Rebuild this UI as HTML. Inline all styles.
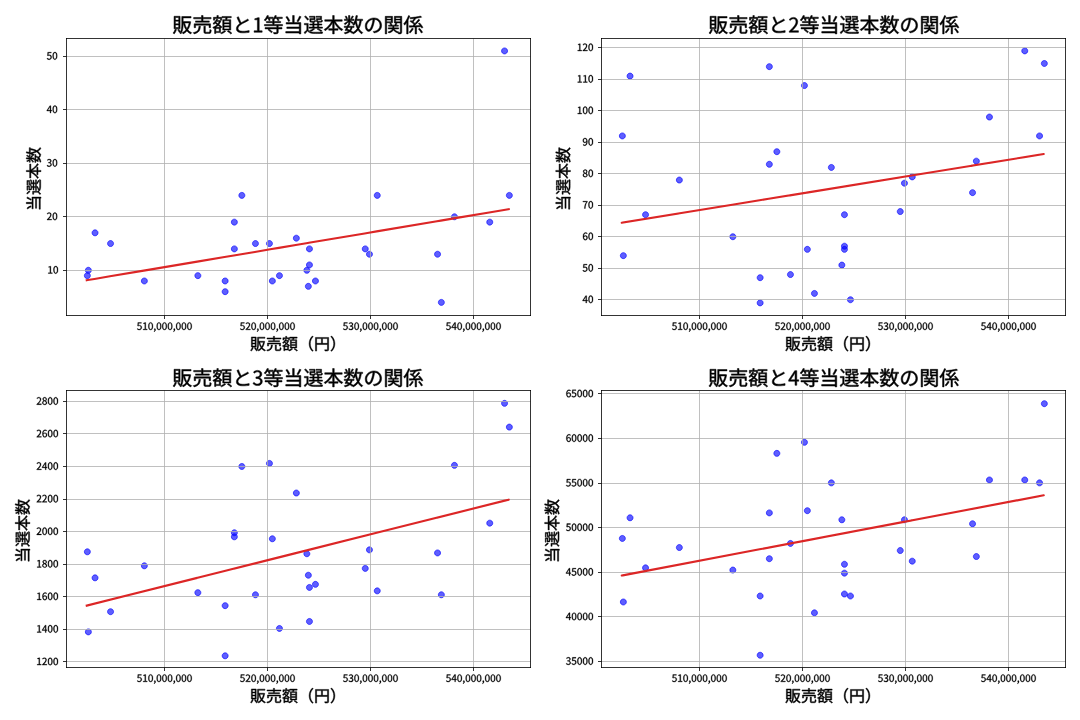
<!DOCTYPE html>
<html><head><meta charset="utf-8"><title>chart</title>
<style>html,body{margin:0;padding:0;background:#fff;width:1080px;height:720px;overflow:hidden;font-family:"Liberation Sans",sans-serif}svg{display:block}</style>
</head><body>
<svg width="1080" height="720" viewBox="0 0 1080 720">
<defs>
<style type="text/css">*{stroke-linejoin: round; stroke-linecap: butt}</style>
</defs>
<g id="figure_1">
<g id="patch_1">
<path d="M 0 720  L 1080 720  L 1080 0  L 0 0  z " style="fill: #ffffff" />
</g>
<g id="axes_1">
<g id="patch_2">
<path d="M 66.5 315.5  L 530.5 315.5  L 530.5 38.5  L 66.5 38.5  z " style="fill: #ffffff" />
</g>
<g id="dots0">
<defs>
<path id="m3312d42796" d="M 0 3  C 0.795609 3 1.55874 2.683901 2.12132 2.12132  C 2.683901 1.55874 3 0.795609 3 0  C 3 -0.795609 2.683901 -1.55874 2.12132 -2.12132  C 1.55874 -2.683901 0.795609 -3 0 -3  C -0.795609 -3 -1.55874 -2.683901 -2.12132 -2.12132  C -2.683901 -1.55874 -3 -0.795609 -3 0  C -3 0.795609 -2.683901 1.55874 -2.12132 2.12132  C -1.55874 2.683901 -0.795609 3 0 3  z " style="stroke: #0000ff; stroke-opacity: 0.63" />
</defs>
<g clip-path="url(#p40eb9d77cc)">
<use href="#m3312d42796" x="87.35" y="275.63" style="fill: #0000ff; fill-opacity: 0.63; stroke: #0000ff; stroke-opacity: 0.63" />
<use href="#m3312d42796" x="88.35" y="270.28" style="fill: #0000ff; fill-opacity: 0.63; stroke: #0000ff; stroke-opacity: 0.63" />
<use href="#m3312d42796" x="95.05" y="232.83" style="fill: #0000ff; fill-opacity: 0.63; stroke: #0000ff; stroke-opacity: 0.63" />
<use href="#m3312d42796" x="110.55" y="243.53" style="fill: #0000ff; fill-opacity: 0.63; stroke: #0000ff; stroke-opacity: 0.63" />
<use href="#m3312d42796" x="144.35" y="280.98" style="fill: #0000ff; fill-opacity: 0.63; stroke: #0000ff; stroke-opacity: 0.63" />
<use href="#m3312d42796" x="197.85" y="275.63" style="fill: #0000ff; fill-opacity: 0.63; stroke: #0000ff; stroke-opacity: 0.63" />
<use href="#m3312d42796" x="225.15" y="280.98" style="fill: #0000ff; fill-opacity: 0.63; stroke: #0000ff; stroke-opacity: 0.63" />
<use href="#m3312d42796" x="225.15" y="291.68" style="fill: #0000ff; fill-opacity: 0.63; stroke: #0000ff; stroke-opacity: 0.63" />
<use href="#m3312d42796" x="234.35" y="222.13" style="fill: #0000ff; fill-opacity: 0.63; stroke: #0000ff; stroke-opacity: 0.63" />
<use href="#m3312d42796" x="234.35" y="248.88" style="fill: #0000ff; fill-opacity: 0.63; stroke: #0000ff; stroke-opacity: 0.63" />
<use href="#m3312d42796" x="241.85" y="195.38" style="fill: #0000ff; fill-opacity: 0.63; stroke: #0000ff; stroke-opacity: 0.63" />
<use href="#m3312d42796" x="255.45" y="243.53" style="fill: #0000ff; fill-opacity: 0.63; stroke: #0000ff; stroke-opacity: 0.63" />
<use href="#m3312d42796" x="269.45" y="243.53" style="fill: #0000ff; fill-opacity: 0.63; stroke: #0000ff; stroke-opacity: 0.63" />
<use href="#m3312d42796" x="272.35" y="280.98" style="fill: #0000ff; fill-opacity: 0.63; stroke: #0000ff; stroke-opacity: 0.63" />
<use href="#m3312d42796" x="279.45" y="275.63" style="fill: #0000ff; fill-opacity: 0.63; stroke: #0000ff; stroke-opacity: 0.63" />
<use href="#m3312d42796" x="296.35" y="238.18" style="fill: #0000ff; fill-opacity: 0.63; stroke: #0000ff; stroke-opacity: 0.63" />
<use href="#m3312d42796" x="306.85" y="270.28" style="fill: #0000ff; fill-opacity: 0.63; stroke: #0000ff; stroke-opacity: 0.63" />
<use href="#m3312d42796" x="308.35" y="286.33" style="fill: #0000ff; fill-opacity: 0.63; stroke: #0000ff; stroke-opacity: 0.63" />
<use href="#m3312d42796" x="309.45" y="248.88" style="fill: #0000ff; fill-opacity: 0.63; stroke: #0000ff; stroke-opacity: 0.63" />
<use href="#m3312d42796" x="309.45" y="264.93" style="fill: #0000ff; fill-opacity: 0.63; stroke: #0000ff; stroke-opacity: 0.63" />
<use href="#m3312d42796" x="315.45" y="280.98" style="fill: #0000ff; fill-opacity: 0.63; stroke: #0000ff; stroke-opacity: 0.63" />
<use href="#m3312d42796" x="365.25" y="248.88" style="fill: #0000ff; fill-opacity: 0.63; stroke: #0000ff; stroke-opacity: 0.63" />
<use href="#m3312d42796" x="369.45" y="254.23" style="fill: #0000ff; fill-opacity: 0.63; stroke: #0000ff; stroke-opacity: 0.63" />
<use href="#m3312d42796" x="377.25" y="195.38" style="fill: #0000ff; fill-opacity: 0.63; stroke: #0000ff; stroke-opacity: 0.63" />
<use href="#m3312d42796" x="437.55" y="254.23" style="fill: #0000ff; fill-opacity: 0.63; stroke: #0000ff; stroke-opacity: 0.63" />
<use href="#m3312d42796" x="441.35" y="302.38" style="fill: #0000ff; fill-opacity: 0.63; stroke: #0000ff; stroke-opacity: 0.63" />
<use href="#m3312d42796" x="454.45" y="216.78" style="fill: #0000ff; fill-opacity: 0.63; stroke: #0000ff; stroke-opacity: 0.63" />
<use href="#m3312d42796" x="489.75" y="222.13" style="fill: #0000ff; fill-opacity: 0.63; stroke: #0000ff; stroke-opacity: 0.63" />
<use href="#m3312d42796" x="504.55" y="50.93" style="fill: #0000ff; fill-opacity: 0.63; stroke: #0000ff; stroke-opacity: 0.63" />
<use href="#m3312d42796" x="509.35" y="195.38" style="fill: #0000ff; fill-opacity: 0.63; stroke: #0000ff; stroke-opacity: 0.63" />
</g>
</g>
<g id="matplotlib.axis_1">
<g id="xtick_1">
<g id="line2d_1">
<path d="M 164.5 315.5 L 164.5 38.5" clip-path="url(#p40eb9d77cc)" style="fill: none; stroke: #b0b0b0; stroke-width: 0.8; stroke-linecap: square" />
</g>
<g id="line2d_2">
<defs>
<path id="m7c25c535dc" d="M 0 0  L 0 3.5  " style="stroke: #000000; stroke-width: 0.8" />
</defs>
<g>
<use href="#m7c25c535dc" x="164.5" y="315.5" style="stroke: #000000; stroke-width: 0.8" />
</g>
</g>
<g id="xtl0_0" transform="translate(0 -0.6)">
<g transform="translate(136.745313 330.459375) scale(0.1 -0.1)" style="stroke:#000;stroke-width:192.00;stroke-linejoin:round">
<defs>
<path id="NotoSansCJKjp-Regular-35" d="M 1677 -83  C 2464 -83 3213 499 3213 1523  C 3213 2560 2573 3021 1798 3021  C 1517 3021 1306 2950 1094 2835  L 1216 4192  L 2982 4192  L 2982 4691  L 704 4691  L 550 2502  L 864 2304  C 1133 2483 1331 2579 1645 2579  C 2234 2579 2618 2182 2618 1510  C 2618 826 2176 403 1619 403  C 1075 403 730 653 467 922  L 173 538  C 493 224 941 -83 1677 -83  z " transform="scale(0.015625)" />
<path id="NotoSansCJKjp-Regular-31" d="M 563 0  L 3136 0  L 3136 486  L 2195 486  L 2195 4691  L 1747 4691  C 1491 4544 1190 4435 774 4358  L 774 3987  L 1613 3987  L 1613 486  L 563 486  L 563 0  z " transform="scale(0.015625)" />
<path id="NotoSansCJKjp-Regular-30" d="M 1779 -83  C 2669 -83 3238 723 3238 2362  C 3238 3987 2669 4774 1779 4774  C 883 4774 320 3987 320 2362  C 320 723 883 -83 1779 -83  z M 1779 390  C 1248 390 883 986 883 2362  C 883 3731 1248 4314 1779 4314  C 2310 4314 2675 3731 2675 2362  C 2675 986 2310 390 1779 390  z " transform="scale(0.015625)" />
<path id="NotoSansCJKjp-Regular-2c" d="M 480 -1216  C 1056 -973 1414 -493 1414 122  C 1414 550 1229 806 922 806  C 685 806 480 653 480 397  C 480 141 678 -13 909 -13  L 979 -6  C 973 -390 736 -698 339 -870  L 480 -1216  z " transform="scale(0.015625)" />
</defs>
<use href="#NotoSansCJKjp-Regular-35" />
<use href="#NotoSansCJKjp-Regular-31" transform="translate(55.499985 0)" />
<use href="#NotoSansCJKjp-Regular-30" transform="translate(110.999969 0)" />
<use href="#NotoSansCJKjp-Regular-2c" transform="translate(166.499954 0)" />
<use href="#NotoSansCJKjp-Regular-30" transform="translate(194.299942 0)" />
<use href="#NotoSansCJKjp-Regular-30" transform="translate(249.799927 0)" />
<use href="#NotoSansCJKjp-Regular-30" transform="translate(305.299911 0)" />
<use href="#NotoSansCJKjp-Regular-2c" transform="translate(360.799896 0)" />
<use href="#NotoSansCJKjp-Regular-30" transform="translate(388.599884 0)" />
<use href="#NotoSansCJKjp-Regular-30" transform="translate(444.099869 0)" />
<use href="#NotoSansCJKjp-Regular-30" transform="translate(499.599854 0)" />
</g>
</g>
</g>
<g id="xtick_2">
<g id="line2d_3">
<path d="M 267.5 315.5 L 267.5 38.5" clip-path="url(#p40eb9d77cc)" style="fill: none; stroke: #b0b0b0; stroke-width: 0.8; stroke-linecap: square" />
</g>
<g id="line2d_4">
<g>
<use href="#m7c25c535dc" x="267.5" y="315.5" style="stroke: #000000; stroke-width: 0.8" />
</g>
</g>
<g id="xtl0_1" transform="translate(0 -0.6)">
<g transform="translate(239.745313 330.459375) scale(0.1 -0.1)" style="stroke:#000;stroke-width:192.00;stroke-linejoin:round">
<defs>
<path id="NotoSansCJKjp-Regular-32" d="M 282 0  L 3232 0  L 3232 506  L 1933 506  C 1696 506 1408 480 1165 461  C 2266 1504 3008 2458 3008 3398  C 3008 4230 2477 4774 1638 4774  C 1043 4774 634 4506 256 4090  L 595 3757  C 858 4070 1184 4301 1568 4301  C 2150 4301 2432 3910 2432 3373  C 2432 2566 1754 1632 282 346  L 282 0  z " transform="scale(0.015625)" />
</defs>
<use href="#NotoSansCJKjp-Regular-35" />
<use href="#NotoSansCJKjp-Regular-32" transform="translate(55.499985 0)" />
<use href="#NotoSansCJKjp-Regular-30" transform="translate(110.999969 0)" />
<use href="#NotoSansCJKjp-Regular-2c" transform="translate(166.499954 0)" />
<use href="#NotoSansCJKjp-Regular-30" transform="translate(194.299942 0)" />
<use href="#NotoSansCJKjp-Regular-30" transform="translate(249.799927 0)" />
<use href="#NotoSansCJKjp-Regular-30" transform="translate(305.299911 0)" />
<use href="#NotoSansCJKjp-Regular-2c" transform="translate(360.799896 0)" />
<use href="#NotoSansCJKjp-Regular-30" transform="translate(388.599884 0)" />
<use href="#NotoSansCJKjp-Regular-30" transform="translate(444.099869 0)" />
<use href="#NotoSansCJKjp-Regular-30" transform="translate(499.599854 0)" />
</g>
</g>
</g>
<g id="xtick_3">
<g id="line2d_5">
<path d="M 370.5 315.5 L 370.5 38.5" clip-path="url(#p40eb9d77cc)" style="fill: none; stroke: #b0b0b0; stroke-width: 0.8; stroke-linecap: square" />
</g>
<g id="line2d_6">
<g>
<use href="#m7c25c535dc" x="370.5" y="315.5" style="stroke: #000000; stroke-width: 0.8" />
</g>
</g>
<g id="xtl0_2" transform="translate(0 -0.6)">
<g transform="translate(342.745313 330.459375) scale(0.1 -0.1)" style="stroke:#000;stroke-width:192.00;stroke-linejoin:round">
<defs>
<path id="NotoSansCJKjp-Regular-33" d="M 1683 -83  C 2522 -83 3194 416 3194 1254  C 3194 1901 2752 2310 2202 2445  L 2202 2477  C 2701 2650 3034 3034 3034 3603  C 3034 4346 2458 4774 1664 4774  C 1126 4774 710 4538 358 4218  L 672 3846  C 941 4115 1267 4301 1645 4301  C 2138 4301 2438 4006 2438 3558  C 2438 3053 2112 2662 1139 2662  L 1139 2214  C 2227 2214 2598 1843 2598 1274  C 2598 736 2208 403 1645 403  C 1114 403 762 659 486 941  L 186 563  C 493 224 954 -83 1683 -83  z " transform="scale(0.015625)" />
</defs>
<use href="#NotoSansCJKjp-Regular-35" />
<use href="#NotoSansCJKjp-Regular-33" transform="translate(55.499985 0)" />
<use href="#NotoSansCJKjp-Regular-30" transform="translate(110.999969 0)" />
<use href="#NotoSansCJKjp-Regular-2c" transform="translate(166.499954 0)" />
<use href="#NotoSansCJKjp-Regular-30" transform="translate(194.299942 0)" />
<use href="#NotoSansCJKjp-Regular-30" transform="translate(249.799927 0)" />
<use href="#NotoSansCJKjp-Regular-30" transform="translate(305.299911 0)" />
<use href="#NotoSansCJKjp-Regular-2c" transform="translate(360.799896 0)" />
<use href="#NotoSansCJKjp-Regular-30" transform="translate(388.599884 0)" />
<use href="#NotoSansCJKjp-Regular-30" transform="translate(444.099869 0)" />
<use href="#NotoSansCJKjp-Regular-30" transform="translate(499.599854 0)" />
</g>
</g>
</g>
<g id="xtick_4">
<g id="line2d_7">
<path d="M 473.5 315.5 L 473.5 38.5" clip-path="url(#p40eb9d77cc)" style="fill: none; stroke: #b0b0b0; stroke-width: 0.8; stroke-linecap: square" />
</g>
<g id="line2d_8">
<g>
<use href="#m7c25c535dc" x="473.5" y="315.5" style="stroke: #000000; stroke-width: 0.8" />
</g>
</g>
<g id="xtl0_3" transform="translate(0 -0.6)">
<g transform="translate(445.745313 330.459375) scale(0.1 -0.1)" style="stroke:#000;stroke-width:192.00;stroke-linejoin:round">
<defs>
<path id="NotoSansCJKjp-Regular-34" d="M 2176 0  L 2726 0  L 2726 1293  L 3354 1293  L 3354 1760  L 2726 1760  L 2726 4691  L 2080 4691  L 128 1677  L 128 1293  L 2176 1293  L 2176 0  z M 2176 1760  L 736 1760  L 1805 3360  C 1939 3590 2067 3827 2182 4051  L 2208 4051  C 2195 3814 2176 3430 2176 3200  L 2176 1760  z " transform="scale(0.015625)" />
</defs>
<use href="#NotoSansCJKjp-Regular-35" />
<use href="#NotoSansCJKjp-Regular-34" transform="translate(55.499985 0)" />
<use href="#NotoSansCJKjp-Regular-30" transform="translate(110.999969 0)" />
<use href="#NotoSansCJKjp-Regular-2c" transform="translate(166.499954 0)" />
<use href="#NotoSansCJKjp-Regular-30" transform="translate(194.299942 0)" />
<use href="#NotoSansCJKjp-Regular-30" transform="translate(249.799927 0)" />
<use href="#NotoSansCJKjp-Regular-30" transform="translate(305.299911 0)" />
<use href="#NotoSansCJKjp-Regular-2c" transform="translate(360.799896 0)" />
<use href="#NotoSansCJKjp-Regular-30" transform="translate(388.599884 0)" />
<use href="#NotoSansCJKjp-Regular-30" transform="translate(444.099869 0)" />
<use href="#NotoSansCJKjp-Regular-30" transform="translate(499.599854 0)" />
</g>
</g>
</g>
<g id="xlabel0" transform="translate(-0.5 0.3)">
<g transform="translate(250.5 349.485) scale(0.16 -0.16)" style="stroke:#000;stroke-width:180.00;stroke-linejoin:round">
<defs>
<path id="NotoSansCJKjp-Regular-8ca9" d="M 883 966  C 755 506 512 51 205 -250  C 320 -314 506 -448 589 -525  C 896 -186 1178 339 1338 864  L 883 966  z M 1709 806  C 1888 544 2086 186 2176 -38  L 2573 166  C 2483 384 2278 717 2093 973  L 1709 806  z M 979 3533  L 2029 3533  L 2029 2714  L 979 2714  L 979 3533  z M 979 2336  L 2029 2336  L 2029 1504  L 979 1504  L 979 2336  z M 979 4730  L 2029 4730  L 2029 3910  L 979 3910  L 979 4730  z M 544 5126  L 544 1107  L 2483 1107  L 2483 5126  L 544 5126  z M 3014 5056  L 3014 2726  C 3014 1792 2970 582 2387 -269  C 2496 -320 2688 -448 2765 -531  C 3379 378 3462 1734 3462 2726  L 3462 2995  L 3507 2995  C 3693 2138 3974 1395 4378 794  C 4026 384 3610 77 3155 -115  C 3258 -205 3379 -390 3437 -506  C 3898 -288 4307 19 4666 416  C 4998 19 5402 -294 5882 -525  C 5952 -403 6093 -224 6195 -141  C 5696 64 5286 378 4947 781  C 5402 1427 5728 2272 5888 3366  L 5600 3437  L 5517 3424  L 3462 3424  L 3462 4614  L 5990 4614  L 5990 5056  L 3014 5056  z M 4659 1171  C 4326 1683 4090 2304 3930 2995  L 5376 2995  C 5229 2272 4986 1664 4659 1171  z " transform="scale(0.015625)" />
<path id="NotoSansCJKjp-Regular-58f2" d="M 582 2714  L 582 1485  L 1043 1485  L 1043 2272  L 5344 2272  L 5344 1485  L 5824 1485  L 5824 2714  L 582 2714  z M 3680 1952  L 3680 250  C 3680 -256 3834 -390 4416 -390  C 4531 -390 5222 -390 5357 -390  C 5856 -390 5990 -179 6048 691  C 5914 723 5715 800 5606 883  C 5587 154 5542 45 5312 45  C 5158 45 4582 45 4461 45  C 4205 45 4160 77 4160 256  L 4160 1952  L 3680 1952  z M 2099 1952  C 2010 838 1754 211 282 -109  C 378 -205 506 -397 550 -518  C 2150 -128 2490 640 2598 1952  L 2099 1952  z M 2931 5376  L 2931 4742  L 416 4742  L 416 4301  L 2931 4301  L 2931 3654  L 1011 3654  L 1011 3226  L 5421 3226  L 5421 3654  L 3430 3654  L 3430 4301  L 5997 4301  L 5997 4742  L 3430 4742  L 3430 5376  L 2931 5376  z " transform="scale(0.015625)" />
<path id="NotoSansCJKjp-Regular-984d" d="M 3757 2688  L 5434 2688  L 5434 2074  L 3757 2074  L 3757 2688  z M 3757 1715  L 5434 1715  L 5434 1088  L 3757 1088  L 3757 1715  z M 3757 3667  L 5434 3667  L 5434 3053  L 3757 3053  L 3757 3667  z M 3859 582  C 3610 307 3085 -6 2618 -186  C 2720 -269 2861 -410 2931 -499  C 3405 -320 3942 13 4275 339  L 3859 582  z M 4794 326  C 5171 77 5645 -288 5869 -525  L 6246 -269  C 6003 -26 5523 320 5152 557  L 4794 326  z M 2208 3418  C 2099 3181 1952 2957 1786 2752  L 1171 3181  L 1350 3418  L 2208 3418  z M 1357 4243  C 1114 3680 672 3149 179 2810  C 275 2746 442 2598 506 2522  C 646 2630 781 2752 909 2886  L 1510 2458  C 1114 2061 634 1760 154 1581  C 237 1491 352 1331 410 1229  L 717 1376  L 717 -403  L 1126 -403  L 1126 -96  L 2624 -96  L 2624 1555  L 2790 1395  L 3078 1734  C 2848 1952 2496 2234 2112 2515  C 2381 2842 2598 3226 2752 3654  L 2470 3789  L 2394 3770  L 1574 3770  C 1645 3891 1702 4013 1760 4141  L 1357 4243  z M 358 4794  L 358 3872  L 762 3872  L 762 4403  L 2586 4403  L 2586 3872  L 3002 3872  L 3002 4794  L 1907 4794  L 1907 5370  L 1453 5370  L 1453 4794  L 358 4794  z M 1126 1203  L 2202 1203  L 2202 288  L 1126 288  L 1126 1203  z M 1126 1587  L 1082 1587  C 1350 1760 1606 1965 1843 2208  C 2118 1990 2381 1773 2586 1587  L 1126 1587  z M 3322 4045  L 3322 710  L 5894 710  L 5894 4045  L 4621 4045  L 4813 4659  L 6054 4659  L 6054 5075  L 3078 5075  L 3078 4659  L 4294 4659  C 4262 4461 4211 4237 4160 4045  L 3322 4045  z " transform="scale(0.015625)" />
<path id="NotoSansCJKjp-Regular-ff08" d="M 4448 2432  C 4448 1184 4954 166 5722 -614  L 6106 -416  C 5370 346 4915 1293 4915 2432  C 4915 3571 5370 4518 6106 5280  L 5722 5478  C 4954 4698 4448 3680 4448 2432  z " transform="scale(0.015625)" />
<path id="NotoSansCJKjp-Regular-5186" d="M 5376 4467  L 5376 2579  L 3424 2579  L 3424 4467  L 5376 4467  z M 576 4941  L 576 -518  L 1062 -518  L 1062 2106  L 5376 2106  L 5376 128  C 5376 13 5338 -26 5216 -32  C 5088 -32 4678 -38 4237 -26  C 4307 -154 4390 -371 4416 -506  C 4998 -506 5357 -499 5568 -422  C 5786 -339 5862 -186 5862 128  L 5862 4941  L 576 4941  z M 1062 2579  L 1062 4467  L 2944 4467  L 2944 2579  L 1062 2579  z " transform="scale(0.015625)" />
<path id="NotoSansCJKjp-Regular-ff09" d="M 1952 2432  C 1952 3680 1446 4698 678 5478  L 294 5280  C 1030 4518 1485 3571 1485 2432  C 1485 1293 1030 346 294 -416  L 678 -614  C 1446 166 1952 1184 1952 2432  z " transform="scale(0.015625)" />
</defs>
<use href="#NotoSansCJKjp-Regular-8ca9" />
<use href="#NotoSansCJKjp-Regular-58f2" transform="translate(99.999985 0)" />
<use href="#NotoSansCJKjp-Regular-984d" transform="translate(199.999969 0)" />
<use href="#NotoSansCJKjp-Regular-ff08" transform="translate(299.999954 0)" />
<use href="#NotoSansCJKjp-Regular-5186" transform="translate(399.999939 0)" />
<use href="#NotoSansCJKjp-Regular-ff09" transform="translate(499.999924 0)" />
</g>
</g>
</g>
<g id="matplotlib.axis_2">
<g id="ytick_1">
<g id="line2d_9">
<path d="M 66.5 270.5 L 530.5 270.5" clip-path="url(#p40eb9d77cc)" style="fill: none; stroke: #b0b0b0; stroke-width: 0.8; stroke-linecap: square" />
</g>
<g id="line2d_10">
<defs>
<path id="mb258c49b38" d="M 0 0  L -3.5 0  " style="stroke: #000000; stroke-width: 0.8" />
</defs>
<g>
<use href="#mb258c49b38" x="66.5" y="270.5" style="stroke: #000000; stroke-width: 0.8" />
</g>
</g>
<g id="ytl0_1" transform="translate(-1 -0.7)">
<g transform="translate(48.4 274.259687) scale(0.1 -0.1)" style="stroke:#000;stroke-width:192.00;stroke-linejoin:round">
<use href="#NotoSansCJKjp-Regular-31" />
<use href="#NotoSansCJKjp-Regular-30" transform="translate(55.499985 0)" />
</g>
</g>
</g>
<g id="ytick_2">
<g id="line2d_11">
<path d="M 66.5 216.5 L 530.5 216.5" clip-path="url(#p40eb9d77cc)" style="fill: none; stroke: #b0b0b0; stroke-width: 0.8; stroke-linecap: square" />
</g>
<g id="line2d_12">
<g>
<use href="#mb258c49b38" x="66.5" y="216.5" style="stroke: #000000; stroke-width: 0.8" />
</g>
</g>
<g id="ytl0_2" transform="translate(-1.8 -0.7)">
<g transform="translate(48.4 220.759687) scale(0.1 -0.1)" style="stroke:#000;stroke-width:192.00;stroke-linejoin:round">
<use href="#NotoSansCJKjp-Regular-32" />
<use href="#NotoSansCJKjp-Regular-30" transform="translate(55.499985 0)" />
</g>
</g>
</g>
<g id="ytick_3">
<g id="line2d_13">
<path d="M 66.5 163.5 L 530.5 163.5" clip-path="url(#p40eb9d77cc)" style="fill: none; stroke: #b0b0b0; stroke-width: 0.8; stroke-linecap: square" />
</g>
<g id="line2d_14">
<g>
<use href="#mb258c49b38" x="66.5" y="163.5" style="stroke: #000000; stroke-width: 0.8" />
</g>
</g>
<g id="ytl0_3" transform="translate(-1.8 -0.7)">
<g transform="translate(48.4 167.259687) scale(0.1 -0.1)" style="stroke:#000;stroke-width:192.00;stroke-linejoin:round">
<use href="#NotoSansCJKjp-Regular-33" />
<use href="#NotoSansCJKjp-Regular-30" transform="translate(55.499985 0)" />
</g>
</g>
</g>
<g id="ytick_4">
<g id="line2d_15">
<path d="M 66.5 109.5 L 530.5 109.5" clip-path="url(#p40eb9d77cc)" style="fill: none; stroke: #b0b0b0; stroke-width: 0.8; stroke-linecap: square" />
</g>
<g id="line2d_16">
<g>
<use href="#mb258c49b38" x="66.5" y="109.5" style="stroke: #000000; stroke-width: 0.8" />
</g>
</g>
<g id="ytl0_4" transform="translate(-1.8 -0.7)">
<g transform="translate(48.4 113.759687) scale(0.1 -0.1)" style="stroke:#000;stroke-width:192.00;stroke-linejoin:round">
<use href="#NotoSansCJKjp-Regular-34" />
<use href="#NotoSansCJKjp-Regular-30" transform="translate(55.499985 0)" />
</g>
</g>
</g>
<g id="ytick_5">
<g id="line2d_17">
<path d="M 66.5 56.5 L 530.5 56.5" clip-path="url(#p40eb9d77cc)" style="fill: none; stroke: #b0b0b0; stroke-width: 0.8; stroke-linecap: square" />
</g>
<g id="line2d_18">
<g>
<use href="#mb258c49b38" x="66.5" y="56.5" style="stroke: #000000; stroke-width: 0.8" />
</g>
</g>
<g id="ytl0_5" transform="translate(-1.8 -0.7)">
<g transform="translate(48.4 60.259687) scale(0.1 -0.1)" style="stroke:#000;stroke-width:192.00;stroke-linejoin:round">
<use href="#NotoSansCJKjp-Regular-35" />
<use href="#NotoSansCJKjp-Regular-30" transform="translate(55.499985 0)" />
</g>
</g>
</g>
<g id="ylabel0" transform="translate(-1 2)">
<g transform="translate(40.735 209) rotate(-90) scale(0.16 -0.16)" style="stroke:#000;stroke-width:180.00;stroke-linejoin:round">
<defs>
<path id="NotoSansCJKjp-Regular-5f53" d="M 774 4922  C 1114 4467 1459 3846 1600 3430  L 2061 3642  C 1914 4045 1562 4646 1210 5094  L 774 4922  z M 5126 5152  C 4941 4659 4582 3981 4307 3552  L 4723 3392  C 5011 3802 5370 4435 5645 4979  L 5126 5152  z M 736 243  L 736 -237  L 5056 -237  L 5056 -518  L 5562 -518  L 5562 3110  L 3456 3110  L 3456 5376  L 2931 5376  L 2931 3110  L 864 3110  L 864 2630  L 5056 2630  L 5056 1702  L 1075 1702  L 1075 1242  L 5056 1242  L 5056 243  L 736 243  z " transform="scale(0.015625)" />
<path id="NotoSansCJKjp-Regular-9078" d="M 320 4979  C 691 4666 1107 4198 1280 3885  L 1683 4154  C 1498 4474 1075 4922 691 5222  L 320 4979  z M 4352 1018  C 4794 787 5261 486 5523 250  L 5990 454  C 5690 698 5158 1005 4698 1229  L 4352 1018  z M 3174 1242  C 2886 986 2413 736 1978 570  C 2080 499 2253 346 2330 269  C 2758 467 3270 781 3603 1094  L 3174 1242  z M 1530 2848  L 288 2848  L 288 2400  L 1075 2400  L 1075 730  C 794 467 480 192 218 0  L 467 -461  C 774 -173 1062 102 1338 384  C 1734 -128 2323 -352 3174 -384  C 3898 -410 5299 -397 6029 -371  C 6048 -230 6118 -19 6176 90  C 5395 38 3885 19 3162 45  C 2406 77 1837 294 1530 774  L 1530 2848  z M 4461 3136  L 4461 2669  L 3411 2669  L 3411 3136  L 2957 3136  L 2957 2669  L 2010 2669  L 2010 2298  L 2957 2298  L 2957 1690  L 1805 1690  L 1805 1312  L 6093 1312  L 6093 1690  L 4922 1690  L 4922 2298  L 5894 2298  L 5894 2669  L 4922 2669  L 4922 3136  L 4461 3136  z M 3411 2298  L 4461 2298  L 4461 1690  L 3411 1690  L 3411 2298  z M 2035 4378  L 2035 3706  C 2035 3315 2163 3219 2637 3219  C 2733 3219 3334 3219 3437 3219  C 3770 3219 3891 3328 3936 3744  C 3814 3770 3661 3821 3578 3878  C 3558 3597 3533 3558 3379 3558  C 3258 3558 2771 3558 2682 3558  C 2477 3558 2445 3584 2445 3706  L 2445 4038  L 3712 4038  L 3712 5126  L 1926 5126  L 1926 4794  L 3296 4794  L 3296 4378  L 2035 4378  z M 4141 4378  L 4141 3712  C 4141 3315 4275 3219 4755 3219  C 4858 3219 5510 3219 5619 3219  C 5958 3219 6086 3334 6125 3763  C 6010 3795 5856 3840 5773 3904  C 5747 3603 5722 3558 5562 3558  C 5427 3558 4902 3558 4800 3558  C 4589 3558 4550 3584 4550 3712  L 4550 4038  L 5805 4038  L 5805 5126  L 4019 5126  L 4019 4794  L 5382 4794  L 5382 4378  L 4141 4378  z " transform="scale(0.015625)" />
<path id="NotoSansCJKjp-Regular-672c" d="M 2944 5370  L 2944 4026  L 416 4026  L 416 3539  L 2643 3539  C 2099 2438 1171 1402 198 896  C 307 800 461 621 544 499  C 1478 1050 2355 2016 2944 3130  L 2944 1171  L 1690 1171  L 1690 685  L 2944 685  L 2944 -512  L 3450 -512  L 3450 685  L 4672 685  L 4672 1171  L 3450 1171  L 3450 3123  C 4026 2016 4896 1043 5856 512  C 5939 646 6106 838 6221 934  C 5210 1427 4288 2438 3744 3539  L 5997 3539  L 5997 4026  L 3450 4026  L 3450 5370  L 2944 5370  z " transform="scale(0.015625)" />
<path id="NotoSansCJKjp-Regular-6570" d="M 2803 5254  C 2688 4998 2483 4627 2317 4403  L 2643 4243  C 2816 4454 3027 4781 3219 5075  L 2803 5254  z M 531 5075  C 704 4806 870 4454 928 4230  L 1312 4397  C 1248 4627 1075 4973 890 5222  L 531 5075  z M 4026 5382  C 3846 4243 3507 3162 2970 2490  C 3078 2413 3283 2246 3360 2163  C 3533 2394 3693 2669 3827 2970  C 3974 2310 4160 1709 4410 1184  C 4090 698 3667 314 3110 19  C 2912 166 2656 326 2374 480  C 2598 774 2746 1126 2829 1562  L 3398 1562  L 3398 1958  L 1677 1958  L 1894 2413  L 1779 2438  L 2061 2438  L 2061 3398  C 2374 3168 2771 2854 2938 2701  L 3206 3046  C 3034 3174 2336 3616 2061 3776  L 2061 3802  L 3373 3802  L 3373 4198  L 2061 4198  L 2061 5382  L 1613 5382  L 1613 4198  L 288 4198  L 288 3802  L 1485 3802  C 1171 3379 678 2982 218 2784  C 314 2694 422 2528 480 2419  C 870 2637 1293 2989 1613 3373  L 1613 2477  L 1440 2515  L 1178 1958  L 250 1958  L 250 1562  L 979 1562  C 806 1222 627 896 486 653  L 909 506  L 1005 678  C 1222 589 1434 493 1638 384  C 1306 147 858 -13 269 -109  C 352 -211 448 -384 480 -512  C 1171 -365 1683 -154 2061 160  C 2355 -13 2611 -186 2810 -352  L 2963 -192  C 3046 -301 3136 -448 3174 -531  C 3802 -205 4288 205 4666 710  C 4979 192 5370 -224 5862 -512  C 5939 -378 6093 -192 6208 -96  C 5690 173 5280 614 4960 1165  C 5350 1856 5594 2707 5754 3750  L 6144 3750  L 6144 4198  L 4262 4198  C 4358 4557 4442 4928 4506 5312  L 4026 5382  z M 1478 1562  L 2368 1562  C 2285 1216 2157 928 1965 698  C 1715 819 1459 934 1197 1030  L 1478 1562  z M 4134 3750  L 5254 3750  C 5139 2950 4966 2266 4698 1696  C 4435 2298 4250 3002 4134 3750  z " transform="scale(0.015625)" />
</defs>
<use href="#NotoSansCJKjp-Regular-5f53" />
<use href="#NotoSansCJKjp-Regular-9078" transform="translate(99.999985 0)" />
<use href="#NotoSansCJKjp-Regular-672c" transform="translate(199.999969 0)" />
<use href="#NotoSansCJKjp-Regular-6570" transform="translate(299.999954 0)" />
</g>
</g>
</g>
<g id="reg0" transform="translate(-0.6 -0.6)">
<path d="M 87.35 280.82691  L 88.35 280.658493  L 95.05 279.530097  L 110.55 276.91963  L 144.35 271.227126  L 197.85 262.216802  L 225.15 257.619011  L 225.15 257.619011  L 234.35 256.069572  L 234.35 256.069572  L 241.85 254.806442  L 255.45 252.515967  L 269.45 250.158126  L 272.35 249.669716  L 279.45 248.473953  L 296.35 245.627701  L 306.85 243.85932  L 308.35 243.606694  L 309.45 243.421435  L 309.45 243.421435  L 315.45 242.410931  L 365.25 234.023751  L 369.45 233.316399  L 377.25 232.002744  L 437.55 221.847183  L 441.35 221.207197  L 454.45 219.000931  L 489.75 213.055801  L 504.55 210.563226  L 509.35 209.754823  " clip-path="url(#p40eb9d77cc)" style="fill: none; stroke: #dc2626; stroke-width: 2.1; stroke-linecap: square" />
</g>
<g id="spine0">
<path d="M 66.5 315.5  L 66.5 38.5  " style="fill: none; stroke: #000000; stroke-width: 0.8; stroke-linejoin: miter; stroke-linecap: square" />
</g>
<g id="spine0">
<path d="M 530.5 315.5  L 530.5 38.5  " style="fill: none; stroke: #000000; stroke-width: 0.8; stroke-linejoin: miter; stroke-linecap: square" />
</g>
<g id="spine0">
<path d="M 66.5 315.5  L 530.5 315.5  " style="fill: none; stroke: #000000; stroke-width: 0.8; stroke-linejoin: miter; stroke-linecap: square" />
</g>
<g id="spine0">
<path d="M 66.5 38.5  L 530.5 38.5  " style="fill: none; stroke: #000000; stroke-width: 0.8; stroke-linejoin: miter; stroke-linecap: square" />
</g>
<g id="title0" transform="translate(-0.6 -0.2)">
<g transform="translate(172.95 32.5) scale(0.2 -0.2)" style="stroke:#000;stroke-width:160.00;stroke-linejoin:round">
<defs>
<path id="NotoSansCJKjp-Regular-3068" d="M 1971 4979  L 1466 4768  C 1760 4070 2099 3322 2394 2797  C 1709 2317 1286 1798 1286 1139  C 1286 179 2157 -179 3360 -179  C 4160 -179 4896 -102 5382 -19  L 5382 550  C 4883 422 4032 333 3334 333  C 2323 333 1818 666 1818 1197  C 1818 1683 2176 2106 2771 2490  C 3398 2906 4282 3328 4717 3552  C 4902 3648 5062 3731 5210 3821  L 4928 4275  C 4794 4166 4659 4083 4474 3974  C 4122 3782 3430 3443 2829 3078  C 2547 3584 2227 4275 1971 4979  z " transform="scale(0.015625)" />
<path id="NotoSansCJKjp-Regular-7b49" d="M 3699 5408  C 3514 4864 3168 4352 2771 4019  L 2944 3910  L 2944 3469  L 941 3469  L 941 3066  L 2944 3066  L 2944 2490  L 307 2490  L 307 2067  L 4256 2067  L 4256 1504  L 512 1504  L 512 1082  L 4256 1082  L 4256 64  C 4256 -26 4224 -51 4109 -58  C 3994 -64 3616 -64 3181 -51  C 3251 -179 3334 -371 3360 -506  C 3885 -506 4243 -499 4461 -435  C 4678 -358 4742 -224 4742 58  L 4742 1082  L 5946 1082  L 5946 1504  L 4742 1504  L 4742 2067  L 6118 2067  L 6118 2490  L 3437 2490  L 3437 3066  L 5510 3066  L 5510 3469  L 3437 3469  L 3437 3910  L 3334 3910  C 3475 4064 3610 4237 3731 4429  L 4166 4429  C 4358 4179 4544 3878 4621 3667  L 5037 3846  C 4966 4013 4832 4224 4685 4429  L 6048 4429  L 6048 4838  L 3962 4838  C 4038 4986 4102 5139 4160 5299  L 3699 5408  z M 1427 806  C 1843 531 2304 122 2515 -179  L 2886 122  C 2669 422 2195 819 1779 1082  L 1427 806  z M 1190 5408  C 973 4838 614 4282 211 3904  C 326 3846 525 3712 614 3635  C 826 3846 1030 4122 1222 4429  L 1478 4429  C 1600 4179 1715 3891 1754 3699  L 2182 3859  C 2144 4006 2054 4224 1958 4429  L 3123 4429  L 3123 4838  L 1446 4838  C 1517 4986 1587 5133 1645 5286  L 1190 5408  z " transform="scale(0.015625)" />
<path id="NotoSansCJKjp-Regular-306e" d="M 3046 4109  C 2976 3520 2848 2912 2688 2381  C 2362 1299 2022 870 1722 870  C 1434 870 1062 1229 1062 2035  C 1062 2906 1818 3955 3046 4109  z M 3578 4122  C 4666 4026 5286 3226 5286 2259  C 5286 1152 4480 544 3661 358  C 3514 326 3315 294 3110 275  L 3411 -198  C 4928 0 5811 896 5811 2240  C 5811 3539 4858 4595 3360 4595  C 1798 4595 563 3379 563 1990  C 563 934 1133 282 1702 282  C 2298 282 2803 954 3194 2272  C 3373 2867 3494 3520 3578 4122  z " transform="scale(0.015625)" />
<path id="NotoSansCJKjp-Regular-95a2" d="M 5619 5101  L 3475 5101  L 3475 3014  L 5389 3014  L 5389 64  C 5389 -26 5363 -51 5280 -58  L 4685 -51  C 4742 32 4813 109 4870 160  C 4211 288 3725 608 3462 1062  L 4870 1062  L 4870 1427  L 3366 1427  L 3366 1485  L 3366 1933  L 4768 1933  L 4768 2291  L 4006 2291  L 4339 2816  L 3904 2950  C 3840 2765 3699 2490 3590 2291  L 2765 2291  C 2707 2477 2560 2746 2406 2938  L 2035 2822  C 2150 2669 2259 2464 2323 2291  L 1632 2291  L 1632 1933  L 2925 1933  L 2925 1491  L 2925 1427  L 1530 1427  L 1530 1062  L 2854 1062  C 2726 723 2374 358 1466 109  C 1562 26 1690 -115 1747 -211  C 2598 58 3008 410 3200 768  C 3501 301 3974 -32 4595 -198  L 4666 -83  C 4717 -211 4774 -390 4794 -512  C 5197 -512 5478 -506 5638 -429  C 5811 -346 5862 -205 5862 64  L 5862 5101  L 5619 5101  z M 2451 3910  L 2451 3379  L 1043 3379  L 1043 3910  L 2451 3910  z M 2451 4243  L 1043 4243  L 1043 4742  L 2451 4742  L 2451 4243  z M 5389 3910  L 5389 3373  L 3930 3373  L 3930 3910  L 5389 3910  z M 5389 4243  L 3930 4243  L 3930 4742  L 5389 4742  L 5389 4243  z M 570 5101  L 570 -518  L 1043 -518  L 1043 3027  L 2906 3027  L 2906 5101  L 570 5101  z " transform="scale(0.015625)" />
<path id="NotoSansCJKjp-Regular-4fc2" d="M 4787 1088  C 5152 691 5555 134 5722 -230  L 6125 -13  C 5952 352 5536 890 5165 1280  L 4787 1088  z M 2726 1274  C 2534 851 2157 339 1805 0  C 1907 -58 2067 -166 2157 -243  C 2534 115 2925 659 3168 1133  L 2726 1274  z M 2093 3507  C 2541 3232 3072 2835 3379 2515  L 2963 2118  L 1843 2093  L 1907 1632  L 3731 1696  L 3731 -512  L 4198 -512  L 4198 1715  L 5600 1773  C 5696 1619 5786 1472 5843 1344  L 6253 1542  C 6048 1958 5587 2560 5158 2995  L 4774 2822  C 4954 2630 5139 2406 5306 2189  L 3558 2131  C 4134 2669 4774 3354 5261 3942  L 4819 4154  C 4525 3757 4115 3277 3699 2842  C 3546 2995 3328 3168 3104 3334  C 3398 3654 3750 4096 4038 4474  L 4013 4486  C 4685 4576 5325 4691 5818 4832  L 5485 5210  C 4691 4979 3258 4794 2067 4691  C 2118 4595 2176 4416 2195 4307  C 2586 4333 3002 4371 3424 4416  C 3232 4128 3002 3808 2784 3558  C 2643 3648 2502 3738 2368 3814  L 2093 3507  z M 1619 5338  C 1274 4358 704 3386 96 2752  C 179 2643 314 2394 358 2278  C 589 2528 819 2829 1030 3149  L 1030 -512  L 1498 -512  L 1498 3942  C 1715 4352 1901 4774 2061 5203  L 1619 5338  z " transform="scale(0.015625)" />
</defs>
<use href="#NotoSansCJKjp-Regular-8ca9" />
<use href="#NotoSansCJKjp-Regular-58f2" transform="translate(99.999985 0)" />
<use href="#NotoSansCJKjp-Regular-984d" transform="translate(199.999969 0)" />
<use href="#NotoSansCJKjp-Regular-3068" transform="translate(299.999954 0)" />
<use href="#NotoSansCJKjp-Regular-31" transform="translate(399.999939 0)" />
<use href="#NotoSansCJKjp-Regular-7b49" transform="translate(455.499924 0)" />
<use href="#NotoSansCJKjp-Regular-5f53" transform="translate(555.499908 0)" />
<use href="#NotoSansCJKjp-Regular-9078" transform="translate(655.499893 0)" />
<use href="#NotoSansCJKjp-Regular-672c" transform="translate(755.499878 0)" />
<use href="#NotoSansCJKjp-Regular-6570" transform="translate(855.499863 0)" />
<use href="#NotoSansCJKjp-Regular-306e" transform="translate(955.499847 0)" />
<use href="#NotoSansCJKjp-Regular-95a2" transform="translate(1055.499832 0)" />
<use href="#NotoSansCJKjp-Regular-4fc2" transform="translate(1155.499817 0)" />
</g>
</g>
</g>
<g id="axes_2">
<g id="patch_3">
<path d="M 601.5 315.5  L 1065.5 315.5  L 1065.5 38.5  L 601.5 38.5  z " style="fill: #ffffff" />
</g>
<g id="dots1">
<g clip-path="url(#p4d94d688c8)">
<use href="#m3312d42796" x="630.05" y="76.09" style="fill: #0000ff; fill-opacity: 0.63; stroke: #0000ff; stroke-opacity: 0.63" />
<use href="#m3312d42796" x="622.35" y="135.94" style="fill: #0000ff; fill-opacity: 0.63; stroke: #0000ff; stroke-opacity: 0.63" />
<use href="#m3312d42796" x="679.35" y="180.04" style="fill: #0000ff; fill-opacity: 0.63; stroke: #0000ff; stroke-opacity: 0.63" />
<use href="#m3312d42796" x="645.55" y="214.69" style="fill: #0000ff; fill-opacity: 0.63; stroke: #0000ff; stroke-opacity: 0.63" />
<use href="#m3312d42796" x="623.35" y="255.64" style="fill: #0000ff; fill-opacity: 0.63; stroke: #0000ff; stroke-opacity: 0.63" />
<use href="#m3312d42796" x="732.85" y="236.74" style="fill: #0000ff; fill-opacity: 0.63; stroke: #0000ff; stroke-opacity: 0.63" />
<use href="#m3312d42796" x="760.15" y="277.69" style="fill: #0000ff; fill-opacity: 0.63; stroke: #0000ff; stroke-opacity: 0.63" />
<use href="#m3312d42796" x="760.15" y="302.89" style="fill: #0000ff; fill-opacity: 0.63; stroke: #0000ff; stroke-opacity: 0.63" />
<use href="#m3312d42796" x="769.35" y="66.64" style="fill: #0000ff; fill-opacity: 0.63; stroke: #0000ff; stroke-opacity: 0.63" />
<use href="#m3312d42796" x="804.45" y="85.54" style="fill: #0000ff; fill-opacity: 0.63; stroke: #0000ff; stroke-opacity: 0.63" />
<use href="#m3312d42796" x="776.85" y="151.69" style="fill: #0000ff; fill-opacity: 0.63; stroke: #0000ff; stroke-opacity: 0.63" />
<use href="#m3312d42796" x="769.35" y="164.29" style="fill: #0000ff; fill-opacity: 0.63; stroke: #0000ff; stroke-opacity: 0.63" />
<use href="#m3312d42796" x="831.35" y="167.44" style="fill: #0000ff; fill-opacity: 0.63; stroke: #0000ff; stroke-opacity: 0.63" />
<use href="#m3312d42796" x="904.45" y="183.19" style="fill: #0000ff; fill-opacity: 0.63; stroke: #0000ff; stroke-opacity: 0.63" />
<use href="#m3312d42796" x="912.25" y="176.89" style="fill: #0000ff; fill-opacity: 0.63; stroke: #0000ff; stroke-opacity: 0.63" />
<use href="#m3312d42796" x="844.45" y="214.69" style="fill: #0000ff; fill-opacity: 0.63; stroke: #0000ff; stroke-opacity: 0.63" />
<use href="#m3312d42796" x="900.25" y="211.54" style="fill: #0000ff; fill-opacity: 0.63; stroke: #0000ff; stroke-opacity: 0.63" />
<use href="#m3312d42796" x="807.35" y="249.34" style="fill: #0000ff; fill-opacity: 0.63; stroke: #0000ff; stroke-opacity: 0.63" />
<use href="#m3312d42796" x="844.45" y="246.19" style="fill: #0000ff; fill-opacity: 0.63; stroke: #0000ff; stroke-opacity: 0.63" />
<use href="#m3312d42796" x="844.45" y="249.34" style="fill: #0000ff; fill-opacity: 0.63; stroke: #0000ff; stroke-opacity: 0.63" />
<use href="#m3312d42796" x="841.85" y="265.09" style="fill: #0000ff; fill-opacity: 0.63; stroke: #0000ff; stroke-opacity: 0.63" />
<use href="#m3312d42796" x="790.45" y="274.54" style="fill: #0000ff; fill-opacity: 0.63; stroke: #0000ff; stroke-opacity: 0.63" />
<use href="#m3312d42796" x="814.45" y="293.44" style="fill: #0000ff; fill-opacity: 0.63; stroke: #0000ff; stroke-opacity: 0.63" />
<use href="#m3312d42796" x="850.45" y="299.74" style="fill: #0000ff; fill-opacity: 0.63; stroke: #0000ff; stroke-opacity: 0.63" />
<use href="#m3312d42796" x="1024.75" y="50.89" style="fill: #0000ff; fill-opacity: 0.63; stroke: #0000ff; stroke-opacity: 0.63" />
<use href="#m3312d42796" x="1044.35" y="63.49" style="fill: #0000ff; fill-opacity: 0.63; stroke: #0000ff; stroke-opacity: 0.63" />
<use href="#m3312d42796" x="989.45" y="117.04" style="fill: #0000ff; fill-opacity: 0.63; stroke: #0000ff; stroke-opacity: 0.63" />
<use href="#m3312d42796" x="1039.55" y="135.94" style="fill: #0000ff; fill-opacity: 0.63; stroke: #0000ff; stroke-opacity: 0.63" />
<use href="#m3312d42796" x="976.35" y="161.14" style="fill: #0000ff; fill-opacity: 0.63; stroke: #0000ff; stroke-opacity: 0.63" />
<use href="#m3312d42796" x="972.55" y="192.64" style="fill: #0000ff; fill-opacity: 0.63; stroke: #0000ff; stroke-opacity: 0.63" />
</g>
</g>
<g id="matplotlib.axis_3">
<g id="xtick_5">
<g id="line2d_19">
<path d="M 699.5 315.5 L 699.5 38.5" clip-path="url(#p4d94d688c8)" style="fill: none; stroke: #b0b0b0; stroke-width: 0.8; stroke-linecap: square" />
</g>
<g id="line2d_20">
<g>
<use href="#m7c25c535dc" x="699.5" y="315.5" style="stroke: #000000; stroke-width: 0.8" />
</g>
</g>
<g id="xtl1_0" transform="translate(0 -0.6)">
<g transform="translate(671.745313 330.459375) scale(0.1 -0.1)" style="stroke:#000;stroke-width:192.00;stroke-linejoin:round">
<use href="#NotoSansCJKjp-Regular-35" />
<use href="#NotoSansCJKjp-Regular-31" transform="translate(55.499985 0)" />
<use href="#NotoSansCJKjp-Regular-30" transform="translate(110.999969 0)" />
<use href="#NotoSansCJKjp-Regular-2c" transform="translate(166.499954 0)" />
<use href="#NotoSansCJKjp-Regular-30" transform="translate(194.299942 0)" />
<use href="#NotoSansCJKjp-Regular-30" transform="translate(249.799927 0)" />
<use href="#NotoSansCJKjp-Regular-30" transform="translate(305.299911 0)" />
<use href="#NotoSansCJKjp-Regular-2c" transform="translate(360.799896 0)" />
<use href="#NotoSansCJKjp-Regular-30" transform="translate(388.599884 0)" />
<use href="#NotoSansCJKjp-Regular-30" transform="translate(444.099869 0)" />
<use href="#NotoSansCJKjp-Regular-30" transform="translate(499.599854 0)" />
</g>
</g>
</g>
<g id="xtick_6">
<g id="line2d_21">
<path d="M 802.5 315.5 L 802.5 38.5" clip-path="url(#p4d94d688c8)" style="fill: none; stroke: #b0b0b0; stroke-width: 0.8; stroke-linecap: square" />
</g>
<g id="line2d_22">
<g>
<use href="#m7c25c535dc" x="802.5" y="315.5" style="stroke: #000000; stroke-width: 0.8" />
</g>
</g>
<g id="xtl1_1" transform="translate(0 -0.6)">
<g transform="translate(774.745313 330.459375) scale(0.1 -0.1)" style="stroke:#000;stroke-width:192.00;stroke-linejoin:round">
<use href="#NotoSansCJKjp-Regular-35" />
<use href="#NotoSansCJKjp-Regular-32" transform="translate(55.499985 0)" />
<use href="#NotoSansCJKjp-Regular-30" transform="translate(110.999969 0)" />
<use href="#NotoSansCJKjp-Regular-2c" transform="translate(166.499954 0)" />
<use href="#NotoSansCJKjp-Regular-30" transform="translate(194.299942 0)" />
<use href="#NotoSansCJKjp-Regular-30" transform="translate(249.799927 0)" />
<use href="#NotoSansCJKjp-Regular-30" transform="translate(305.299911 0)" />
<use href="#NotoSansCJKjp-Regular-2c" transform="translate(360.799896 0)" />
<use href="#NotoSansCJKjp-Regular-30" transform="translate(388.599884 0)" />
<use href="#NotoSansCJKjp-Regular-30" transform="translate(444.099869 0)" />
<use href="#NotoSansCJKjp-Regular-30" transform="translate(499.599854 0)" />
</g>
</g>
</g>
<g id="xtick_7">
<g id="line2d_23">
<path d="M 905.5 315.5 L 905.5 38.5" clip-path="url(#p4d94d688c8)" style="fill: none; stroke: #b0b0b0; stroke-width: 0.8; stroke-linecap: square" />
</g>
<g id="line2d_24">
<g>
<use href="#m7c25c535dc" x="905.5" y="315.5" style="stroke: #000000; stroke-width: 0.8" />
</g>
</g>
<g id="xtl1_2" transform="translate(0 -0.6)">
<g transform="translate(877.745313 330.459375) scale(0.1 -0.1)" style="stroke:#000;stroke-width:192.00;stroke-linejoin:round">
<use href="#NotoSansCJKjp-Regular-35" />
<use href="#NotoSansCJKjp-Regular-33" transform="translate(55.499985 0)" />
<use href="#NotoSansCJKjp-Regular-30" transform="translate(110.999969 0)" />
<use href="#NotoSansCJKjp-Regular-2c" transform="translate(166.499954 0)" />
<use href="#NotoSansCJKjp-Regular-30" transform="translate(194.299942 0)" />
<use href="#NotoSansCJKjp-Regular-30" transform="translate(249.799927 0)" />
<use href="#NotoSansCJKjp-Regular-30" transform="translate(305.299911 0)" />
<use href="#NotoSansCJKjp-Regular-2c" transform="translate(360.799896 0)" />
<use href="#NotoSansCJKjp-Regular-30" transform="translate(388.599884 0)" />
<use href="#NotoSansCJKjp-Regular-30" transform="translate(444.099869 0)" />
<use href="#NotoSansCJKjp-Regular-30" transform="translate(499.599854 0)" />
</g>
</g>
</g>
<g id="xtick_8">
<g id="line2d_25">
<path d="M 1008.5 315.5 L 1008.5 38.5" clip-path="url(#p4d94d688c8)" style="fill: none; stroke: #b0b0b0; stroke-width: 0.8; stroke-linecap: square" />
</g>
<g id="line2d_26">
<g>
<use href="#m7c25c535dc" x="1008.5" y="315.5" style="stroke: #000000; stroke-width: 0.8" />
</g>
</g>
<g id="xtl1_3" transform="translate(0 -0.6)">
<g transform="translate(980.745313 330.459375) scale(0.1 -0.1)" style="stroke:#000;stroke-width:192.00;stroke-linejoin:round">
<use href="#NotoSansCJKjp-Regular-35" />
<use href="#NotoSansCJKjp-Regular-34" transform="translate(55.499985 0)" />
<use href="#NotoSansCJKjp-Regular-30" transform="translate(110.999969 0)" />
<use href="#NotoSansCJKjp-Regular-2c" transform="translate(166.499954 0)" />
<use href="#NotoSansCJKjp-Regular-30" transform="translate(194.299942 0)" />
<use href="#NotoSansCJKjp-Regular-30" transform="translate(249.799927 0)" />
<use href="#NotoSansCJKjp-Regular-30" transform="translate(305.299911 0)" />
<use href="#NotoSansCJKjp-Regular-2c" transform="translate(360.799896 0)" />
<use href="#NotoSansCJKjp-Regular-30" transform="translate(388.599884 0)" />
<use href="#NotoSansCJKjp-Regular-30" transform="translate(444.099869 0)" />
<use href="#NotoSansCJKjp-Regular-30" transform="translate(499.599854 0)" />
</g>
</g>
</g>
<g id="xlabel1" transform="translate(-0.5 0.3)">
<g transform="translate(785.5 349.485) scale(0.16 -0.16)" style="stroke:#000;stroke-width:180.00;stroke-linejoin:round">
<use href="#NotoSansCJKjp-Regular-8ca9" />
<use href="#NotoSansCJKjp-Regular-58f2" transform="translate(99.999985 0)" />
<use href="#NotoSansCJKjp-Regular-984d" transform="translate(199.999969 0)" />
<use href="#NotoSansCJKjp-Regular-ff08" transform="translate(299.999954 0)" />
<use href="#NotoSansCJKjp-Regular-5186" transform="translate(399.999939 0)" />
<use href="#NotoSansCJKjp-Regular-ff09" transform="translate(499.999924 0)" />
</g>
</g>
</g>
<g id="matplotlib.axis_4">
<g id="ytick_6">
<g id="line2d_27">
<path d="M 601.5 299.5 L 1065.5 299.5" clip-path="url(#p4d94d688c8)" style="fill: none; stroke: #b0b0b0; stroke-width: 0.8; stroke-linecap: square" />
</g>
<g id="line2d_28">
<g>
<use href="#mb258c49b38" x="601.5" y="299.5" style="stroke: #000000; stroke-width: 0.8" />
</g>
</g>
<g id="ytl1_1" transform="translate(-1 -0.7)">
<g transform="translate(583.4 303.719688) scale(0.1 -0.1)" style="stroke:#000;stroke-width:192.00;stroke-linejoin:round">
<use href="#NotoSansCJKjp-Regular-34" />
<use href="#NotoSansCJKjp-Regular-30" transform="translate(55.499985 0)" />
</g>
</g>
</g>
<g id="ytick_7">
<g id="line2d_29">
<path d="M 601.5 268.5 L 1065.5 268.5" clip-path="url(#p4d94d688c8)" style="fill: none; stroke: #b0b0b0; stroke-width: 0.8; stroke-linecap: square" />
</g>
<g id="line2d_30">
<g>
<use href="#mb258c49b38" x="601.5" y="268.5" style="stroke: #000000; stroke-width: 0.8" />
</g>
</g>
<g id="ytl1_2" transform="translate(-1 -0.7)">
<g transform="translate(583.4 272.219688) scale(0.1 -0.1)" style="stroke:#000;stroke-width:192.00;stroke-linejoin:round">
<use href="#NotoSansCJKjp-Regular-35" />
<use href="#NotoSansCJKjp-Regular-30" transform="translate(55.499985 0)" />
</g>
</g>
</g>
<g id="ytick_8">
<g id="line2d_31">
<path d="M 601.5 236.5 L 1065.5 236.5" clip-path="url(#p4d94d688c8)" style="fill: none; stroke: #b0b0b0; stroke-width: 0.8; stroke-linecap: square" />
</g>
<g id="line2d_32">
<g>
<use href="#mb258c49b38" x="601.5" y="236.5" style="stroke: #000000; stroke-width: 0.8" />
</g>
</g>
<g id="ytl1_3" transform="translate(-1 -0.7)">
<g transform="translate(583.4 240.719688) scale(0.1 -0.1)" style="stroke:#000;stroke-width:192.00;stroke-linejoin:round">
<defs>
<path id="NotoSansCJKjp-Regular-36" d="M 1926 -83  C 2656 -83 3277 531 3277 1440  C 3277 2426 2765 2912 1971 2912  C 1606 2912 1197 2701 909 2349  C 934 3802 1466 4294 2118 4294  C 2400 4294 2682 4154 2861 3936  L 3194 4294  C 2931 4576 2579 4774 2093 4774  C 1184 4774 358 4077 358 2240  C 358 691 1030 -83 1926 -83  z M 922 1882  C 1229 2317 1587 2477 1875 2477  C 2445 2477 2720 2074 2720 1440  C 2720 800 2374 378 1926 378  C 1338 378 986 909 922 1882  z " transform="scale(0.015625)" />
</defs>
<use href="#NotoSansCJKjp-Regular-36" />
<use href="#NotoSansCJKjp-Regular-30" transform="translate(55.499985 0)" />
</g>
</g>
</g>
<g id="ytick_9">
<g id="line2d_33">
<path d="M 601.5 205.5 L 1065.5 205.5" clip-path="url(#p4d94d688c8)" style="fill: none; stroke: #b0b0b0; stroke-width: 0.8; stroke-linecap: square" />
</g>
<g id="line2d_34">
<g>
<use href="#mb258c49b38" x="601.5" y="205.5" style="stroke: #000000; stroke-width: 0.8" />
</g>
</g>
<g id="ytl1_4" transform="translate(-1 -0.7)">
<g transform="translate(583.4 209.219688) scale(0.1 -0.1)" style="stroke:#000;stroke-width:192.00;stroke-linejoin:round">
<defs>
<path id="NotoSansCJKjp-Regular-37" d="M 1267 0  L 1875 0  C 1952 1837 2150 2931 3251 4339  L 3251 4691  L 314 4691  L 314 4192  L 2592 4192  C 1670 2912 1350 1779 1267 0  z " transform="scale(0.015625)" />
</defs>
<use href="#NotoSansCJKjp-Regular-37" />
<use href="#NotoSansCJKjp-Regular-30" transform="translate(55.499985 0)" />
</g>
</g>
</g>
<g id="ytick_10">
<g id="line2d_35">
<path d="M 601.5 173.5 L 1065.5 173.5" clip-path="url(#p4d94d688c8)" style="fill: none; stroke: #b0b0b0; stroke-width: 0.8; stroke-linecap: square" />
</g>
<g id="line2d_36">
<g>
<use href="#mb258c49b38" x="601.5" y="173.5" style="stroke: #000000; stroke-width: 0.8" />
</g>
</g>
<g id="ytl1_5" transform="translate(-1 -0.7)">
<g transform="translate(583.4 177.719687) scale(0.1 -0.1)" style="stroke:#000;stroke-width:192.00;stroke-linejoin:round">
<defs>
<path id="NotoSansCJKjp-Regular-38" d="M 1792 -83  C 2669 -83 3258 448 3258 1126  C 3258 1773 2880 2125 2470 2362  L 2470 2394  C 2746 2611 3091 3034 3091 3526  C 3091 4250 2605 4762 1805 4762  C 1075 4762 518 4282 518 3571  C 518 3078 813 2726 1152 2490  L 1152 2464  C 723 2234 294 1792 294 1165  C 294 442 922 -83 1792 -83  z M 2112 2547  C 1555 2765 1050 3014 1050 3571  C 1050 4026 1363 4326 1798 4326  C 2298 4326 2592 3962 2592 3494  C 2592 3149 2426 2829 2112 2547  z M 1798 352  C 1235 352 813 717 813 1216  C 813 1664 1082 2035 1459 2278  C 2125 2010 2701 1779 2701 1146  C 2701 678 2342 352 1798 352  z " transform="scale(0.015625)" />
</defs>
<use href="#NotoSansCJKjp-Regular-38" />
<use href="#NotoSansCJKjp-Regular-30" transform="translate(55.499985 0)" />
</g>
</g>
</g>
<g id="ytick_11">
<g id="line2d_37">
<path d="M 601.5 142.5 L 1065.5 142.5" clip-path="url(#p4d94d688c8)" style="fill: none; stroke: #b0b0b0; stroke-width: 0.8; stroke-linecap: square" />
</g>
<g id="line2d_38">
<g>
<use href="#mb258c49b38" x="601.5" y="142.5" style="stroke: #000000; stroke-width: 0.8" />
</g>
</g>
<g id="ytl1_6" transform="translate(-1 -0.7)">
<g transform="translate(583.4 146.219687) scale(0.1 -0.1)" style="stroke:#000;stroke-width:192.00;stroke-linejoin:round">
<defs>
<path id="NotoSansCJKjp-Regular-39" d="M 1504 -83  C 2381 -83 3206 646 3206 2547  C 3206 4038 2528 4774 1626 4774  C 896 4774 282 4166 282 3251  C 282 2285 794 1779 1574 1779  C 1965 1779 2368 2003 2656 2349  C 2611 896 2086 403 1485 403  C 1178 403 896 538 691 762  L 371 397  C 634 122 992 -83 1504 -83  z M 2650 2842  C 2336 2394 1984 2214 1670 2214  C 1114 2214 832 2624 832 3251  C 832 3898 1178 4320 1632 4320  C 2227 4320 2586 3808 2650 2842  z " transform="scale(0.015625)" />
</defs>
<use href="#NotoSansCJKjp-Regular-39" />
<use href="#NotoSansCJKjp-Regular-30" transform="translate(55.499985 0)" />
</g>
</g>
</g>
<g id="ytick_12">
<g id="line2d_39">
<path d="M 601.5 110.5 L 1065.5 110.5" clip-path="url(#p4d94d688c8)" style="fill: none; stroke: #b0b0b0; stroke-width: 0.8; stroke-linecap: square" />
</g>
<g id="line2d_40">
<g>
<use href="#mb258c49b38" x="601.5" y="110.5" style="stroke: #000000; stroke-width: 0.8" />
</g>
</g>
<g id="ytl1_7" transform="translate(-1 -0.7)">
<g transform="translate(577.85 114.719687) scale(0.1 -0.1)" style="stroke:#000;stroke-width:192.00;stroke-linejoin:round">
<use href="#NotoSansCJKjp-Regular-31" />
<use href="#NotoSansCJKjp-Regular-30" transform="translate(55.499985 0)" />
<use href="#NotoSansCJKjp-Regular-30" transform="translate(110.999969 0)" />
</g>
</g>
</g>
<g id="ytick_13">
<g id="line2d_41">
<path d="M 601.5 79.5 L 1065.5 79.5" clip-path="url(#p4d94d688c8)" style="fill: none; stroke: #b0b0b0; stroke-width: 0.8; stroke-linecap: square" />
</g>
<g id="line2d_42">
<g>
<use href="#mb258c49b38" x="601.5" y="79.5" style="stroke: #000000; stroke-width: 0.8" />
</g>
</g>
<g id="ytl1_8" transform="translate(-1 -0.7)">
<g transform="translate(577.85 83.219687) scale(0.1 -0.1)" style="stroke:#000;stroke-width:192.00;stroke-linejoin:round">
<use href="#NotoSansCJKjp-Regular-31" />
<use href="#NotoSansCJKjp-Regular-31" transform="translate(55.499985 0)" />
<use href="#NotoSansCJKjp-Regular-30" transform="translate(110.999969 0)" />
</g>
</g>
</g>
<g id="ytick_14">
<g id="line2d_43">
<path d="M 601.5 47.5 L 1065.5 47.5" clip-path="url(#p4d94d688c8)" style="fill: none; stroke: #b0b0b0; stroke-width: 0.8; stroke-linecap: square" />
</g>
<g id="line2d_44">
<g>
<use href="#mb258c49b38" x="601.5" y="47.5" style="stroke: #000000; stroke-width: 0.8" />
</g>
</g>
<g id="ytl1_9" transform="translate(-1 -0.7)">
<g transform="translate(577.85 51.719687) scale(0.1 -0.1)" style="stroke:#000;stroke-width:192.00;stroke-linejoin:round">
<use href="#NotoSansCJKjp-Regular-31" />
<use href="#NotoSansCJKjp-Regular-32" transform="translate(55.499985 0)" />
<use href="#NotoSansCJKjp-Regular-30" transform="translate(110.999969 0)" />
</g>
</g>
</g>
<g id="ylabel1" transform="translate(-1 2)">
<g transform="translate(570.185 209) rotate(-90) scale(0.16 -0.16)" style="stroke:#000;stroke-width:180.00;stroke-linejoin:round">
<use href="#NotoSansCJKjp-Regular-5f53" />
<use href="#NotoSansCJKjp-Regular-9078" transform="translate(99.999985 0)" />
<use href="#NotoSansCJKjp-Regular-672c" transform="translate(199.999969 0)" />
<use href="#NotoSansCJKjp-Regular-6570" transform="translate(299.999954 0)" />
</g>
</g>
</g>
<g id="reg1" transform="translate(-0.6 -0.6)">
<path d="M 630.05 222.064412  L 622.35 223.318059  L 679.35 214.037813  L 645.55 219.540836  L 623.35 223.155248  L 732.85 205.327406  L 760.15 200.882657  L 760.15 200.882657  L 769.35 199.384792  L 804.45 193.670115  L 776.85 198.163707  L 769.35 199.384792  L 831.35 189.29049  L 904.45 177.388981  L 912.25 176.119052  L 844.45 187.157661  L 900.25 178.072788  L 807.35 193.197962  L 844.45 187.157661  L 844.45 187.157661  L 841.85 187.580971  L 790.45 195.949473  L 814.45 192.042001  L 850.45 186.180793  L 1024.75 157.802777  L 1044.35 154.611675  L 989.45 163.550017  L 1039.55 155.393169  L 976.35 165.682846  L 972.55 166.301529  " clip-path="url(#p4d94d688c8)" style="fill: none; stroke: #dc2626; stroke-width: 2.1; stroke-linecap: square" />
</g>
<g id="spine1">
<path d="M 601.5 315.5  L 601.5 38.5  " style="fill: none; stroke: #000000; stroke-width: 0.8; stroke-linejoin: miter; stroke-linecap: square" />
</g>
<g id="spine1">
<path d="M 1065.5 315.5  L 1065.5 38.5  " style="fill: none; stroke: #000000; stroke-width: 0.8; stroke-linejoin: miter; stroke-linecap: square" />
</g>
<g id="spine1">
<path d="M 601.5 315.5  L 1065.5 315.5  " style="fill: none; stroke: #000000; stroke-width: 0.8; stroke-linejoin: miter; stroke-linecap: square" />
</g>
<g id="spine1">
<path d="M 601.5 38.5  L 1065.5 38.5  " style="fill: none; stroke: #000000; stroke-width: 0.8; stroke-linejoin: miter; stroke-linecap: square" />
</g>
<g id="title1" transform="translate(0.4 -0.2)">
<g transform="translate(707.95 32.5) scale(0.2 -0.2)" style="stroke:#000;stroke-width:160.00;stroke-linejoin:round">
<use href="#NotoSansCJKjp-Regular-8ca9" />
<use href="#NotoSansCJKjp-Regular-58f2" transform="translate(99.999985 0)" />
<use href="#NotoSansCJKjp-Regular-984d" transform="translate(199.999969 0)" />
<use href="#NotoSansCJKjp-Regular-3068" transform="translate(299.999954 0)" />
<use href="#NotoSansCJKjp-Regular-32" transform="translate(399.999939 0)" />
<use href="#NotoSansCJKjp-Regular-7b49" transform="translate(455.499924 0)" />
<use href="#NotoSansCJKjp-Regular-5f53" transform="translate(555.499908 0)" />
<use href="#NotoSansCJKjp-Regular-9078" transform="translate(655.499893 0)" />
<use href="#NotoSansCJKjp-Regular-672c" transform="translate(755.499878 0)" />
<use href="#NotoSansCJKjp-Regular-6570" transform="translate(855.499863 0)" />
<use href="#NotoSansCJKjp-Regular-306e" transform="translate(955.499847 0)" />
<use href="#NotoSansCJKjp-Regular-95a2" transform="translate(1055.499832 0)" />
<use href="#NotoSansCJKjp-Regular-4fc2" transform="translate(1155.499817 0)" />
</g>
</g>
</g>
<g id="axes_3">
<g id="patch_4">
<path d="M 66.5 667.5  L 530.5 667.5  L 530.5 390.5  L 66.5 390.5  z " style="fill: #ffffff" />
</g>
<g id="dots2">
<g clip-path="url(#pfd1f3cce04)">
<use href="#m3312d42796" x="87.35" y="551.79334" style="fill: #0000ff; fill-opacity: 0.63; stroke: #0000ff; stroke-opacity: 0.63" />
<use href="#m3312d42796" x="95.05" y="577.83894" style="fill: #0000ff; fill-opacity: 0.63; stroke: #0000ff; stroke-opacity: 0.63" />
<use href="#m3312d42796" x="144.35" y="565.79285" style="fill: #0000ff; fill-opacity: 0.63; stroke: #0000ff; stroke-opacity: 0.63" />
<use href="#m3312d42796" x="197.85" y="592.652375" style="fill: #0000ff; fill-opacity: 0.63; stroke: #0000ff; stroke-opacity: 0.63" />
<use href="#m3312d42796" x="110.55" y="611.69822" style="fill: #0000ff; fill-opacity: 0.63; stroke: #0000ff; stroke-opacity: 0.63" />
<use href="#m3312d42796" x="88.35" y="631.88356" style="fill: #0000ff; fill-opacity: 0.63; stroke: #0000ff; stroke-opacity: 0.63" />
<use href="#m3312d42796" x="225.15" y="605.675175" style="fill: #0000ff; fill-opacity: 0.63; stroke: #0000ff; stroke-opacity: 0.63" />
<use href="#m3312d42796" x="225.15" y="655.812955" style="fill: #0000ff; fill-opacity: 0.63; stroke: #0000ff; stroke-opacity: 0.63" />
<use href="#m3312d42796" x="241.85" y="466.494" style="fill: #0000ff; fill-opacity: 0.63; stroke: #0000ff; stroke-opacity: 0.63" />
<use href="#m3312d42796" x="269.45" y="463.401085" style="fill: #0000ff; fill-opacity: 0.63; stroke: #0000ff; stroke-opacity: 0.63" />
<use href="#m3312d42796" x="296.35" y="493.027955" style="fill: #0000ff; fill-opacity: 0.63; stroke: #0000ff; stroke-opacity: 0.63" />
<use href="#m3312d42796" x="234.35" y="532.747495" style="fill: #0000ff; fill-opacity: 0.63; stroke: #0000ff; stroke-opacity: 0.63" />
<use href="#m3312d42796" x="234.35" y="536.81712" style="fill: #0000ff; fill-opacity: 0.63; stroke: #0000ff; stroke-opacity: 0.63" />
<use href="#m3312d42796" x="272.35" y="538.77054" style="fill: #0000ff; fill-opacity: 0.63; stroke: #0000ff; stroke-opacity: 0.63" />
<use href="#m3312d42796" x="306.85" y="553.74676" style="fill: #0000ff; fill-opacity: 0.63; stroke: #0000ff; stroke-opacity: 0.63" />
<use href="#m3312d42796" x="369.45" y="549.83992" style="fill: #0000ff; fill-opacity: 0.63; stroke: #0000ff; stroke-opacity: 0.63" />
<use href="#m3312d42796" x="365.25" y="568.39741" style="fill: #0000ff; fill-opacity: 0.63; stroke: #0000ff; stroke-opacity: 0.63" />
<use href="#m3312d42796" x="308.35" y="575.23438" style="fill: #0000ff; fill-opacity: 0.63; stroke: #0000ff; stroke-opacity: 0.63" />
<use href="#m3312d42796" x="309.45" y="587.443255" style="fill: #0000ff; fill-opacity: 0.63; stroke: #0000ff; stroke-opacity: 0.63" />
<use href="#m3312d42796" x="315.45" y="584.35034" style="fill: #0000ff; fill-opacity: 0.63; stroke: #0000ff; stroke-opacity: 0.63" />
<use href="#m3312d42796" x="255.45" y="594.76858" style="fill: #0000ff; fill-opacity: 0.63; stroke: #0000ff; stroke-opacity: 0.63" />
<use href="#m3312d42796" x="309.45" y="621.46532" style="fill: #0000ff; fill-opacity: 0.63; stroke: #0000ff; stroke-opacity: 0.63" />
<use href="#m3312d42796" x="279.45" y="628.465075" style="fill: #0000ff; fill-opacity: 0.63; stroke: #0000ff; stroke-opacity: 0.63" />
<use href="#m3312d42796" x="377.25" y="590.86174" style="fill: #0000ff; fill-opacity: 0.63; stroke: #0000ff; stroke-opacity: 0.63" />
<use href="#m3312d42796" x="504.55" y="403.33342" style="fill: #0000ff; fill-opacity: 0.63; stroke: #0000ff; stroke-opacity: 0.63" />
<use href="#m3312d42796" x="509.35" y="427.10003" style="fill: #0000ff; fill-opacity: 0.63; stroke: #0000ff; stroke-opacity: 0.63" />
<use href="#m3312d42796" x="454.45" y="465.354505" style="fill: #0000ff; fill-opacity: 0.63; stroke: #0000ff; stroke-opacity: 0.63" />
<use href="#m3312d42796" x="489.75" y="523.14318" style="fill: #0000ff; fill-opacity: 0.63; stroke: #0000ff; stroke-opacity: 0.63" />
<use href="#m3312d42796" x="437.55" y="552.932835" style="fill: #0000ff; fill-opacity: 0.63; stroke: #0000ff; stroke-opacity: 0.63" />
<use href="#m3312d42796" x="441.35" y="594.76858" style="fill: #0000ff; fill-opacity: 0.63; stroke: #0000ff; stroke-opacity: 0.63" />
</g>
</g>
<g id="matplotlib.axis_5">
<g id="xtick_9">
<g id="line2d_45">
<path d="M 164.5 667.5 L 164.5 390.5" clip-path="url(#pfd1f3cce04)" style="fill: none; stroke: #b0b0b0; stroke-width: 0.8; stroke-linecap: square" />
</g>
<g id="line2d_46">
<g>
<use href="#m7c25c535dc" x="164.5" y="667.5" style="stroke: #000000; stroke-width: 0.8" />
</g>
</g>
<g id="xtl2_0" transform="translate(0 -0.6)">
<g transform="translate(136.745313 682.459375) scale(0.1 -0.1)" style="stroke:#000;stroke-width:192.00;stroke-linejoin:round">
<use href="#NotoSansCJKjp-Regular-35" />
<use href="#NotoSansCJKjp-Regular-31" transform="translate(55.499985 0)" />
<use href="#NotoSansCJKjp-Regular-30" transform="translate(110.999969 0)" />
<use href="#NotoSansCJKjp-Regular-2c" transform="translate(166.499954 0)" />
<use href="#NotoSansCJKjp-Regular-30" transform="translate(194.299942 0)" />
<use href="#NotoSansCJKjp-Regular-30" transform="translate(249.799927 0)" />
<use href="#NotoSansCJKjp-Regular-30" transform="translate(305.299911 0)" />
<use href="#NotoSansCJKjp-Regular-2c" transform="translate(360.799896 0)" />
<use href="#NotoSansCJKjp-Regular-30" transform="translate(388.599884 0)" />
<use href="#NotoSansCJKjp-Regular-30" transform="translate(444.099869 0)" />
<use href="#NotoSansCJKjp-Regular-30" transform="translate(499.599854 0)" />
</g>
</g>
</g>
<g id="xtick_10">
<g id="line2d_47">
<path d="M 267.5 667.5 L 267.5 390.5" clip-path="url(#pfd1f3cce04)" style="fill: none; stroke: #b0b0b0; stroke-width: 0.8; stroke-linecap: square" />
</g>
<g id="line2d_48">
<g>
<use href="#m7c25c535dc" x="267.5" y="667.5" style="stroke: #000000; stroke-width: 0.8" />
</g>
</g>
<g id="xtl2_1" transform="translate(0 -0.6)">
<g transform="translate(239.745313 682.459375) scale(0.1 -0.1)" style="stroke:#000;stroke-width:192.00;stroke-linejoin:round">
<use href="#NotoSansCJKjp-Regular-35" />
<use href="#NotoSansCJKjp-Regular-32" transform="translate(55.499985 0)" />
<use href="#NotoSansCJKjp-Regular-30" transform="translate(110.999969 0)" />
<use href="#NotoSansCJKjp-Regular-2c" transform="translate(166.499954 0)" />
<use href="#NotoSansCJKjp-Regular-30" transform="translate(194.299942 0)" />
<use href="#NotoSansCJKjp-Regular-30" transform="translate(249.799927 0)" />
<use href="#NotoSansCJKjp-Regular-30" transform="translate(305.299911 0)" />
<use href="#NotoSansCJKjp-Regular-2c" transform="translate(360.799896 0)" />
<use href="#NotoSansCJKjp-Regular-30" transform="translate(388.599884 0)" />
<use href="#NotoSansCJKjp-Regular-30" transform="translate(444.099869 0)" />
<use href="#NotoSansCJKjp-Regular-30" transform="translate(499.599854 0)" />
</g>
</g>
</g>
<g id="xtick_11">
<g id="line2d_49">
<path d="M 370.5 667.5 L 370.5 390.5" clip-path="url(#pfd1f3cce04)" style="fill: none; stroke: #b0b0b0; stroke-width: 0.8; stroke-linecap: square" />
</g>
<g id="line2d_50">
<g>
<use href="#m7c25c535dc" x="370.5" y="667.5" style="stroke: #000000; stroke-width: 0.8" />
</g>
</g>
<g id="xtl2_2" transform="translate(0 -0.6)">
<g transform="translate(342.745313 682.459375) scale(0.1 -0.1)" style="stroke:#000;stroke-width:192.00;stroke-linejoin:round">
<use href="#NotoSansCJKjp-Regular-35" />
<use href="#NotoSansCJKjp-Regular-33" transform="translate(55.499985 0)" />
<use href="#NotoSansCJKjp-Regular-30" transform="translate(110.999969 0)" />
<use href="#NotoSansCJKjp-Regular-2c" transform="translate(166.499954 0)" />
<use href="#NotoSansCJKjp-Regular-30" transform="translate(194.299942 0)" />
<use href="#NotoSansCJKjp-Regular-30" transform="translate(249.799927 0)" />
<use href="#NotoSansCJKjp-Regular-30" transform="translate(305.299911 0)" />
<use href="#NotoSansCJKjp-Regular-2c" transform="translate(360.799896 0)" />
<use href="#NotoSansCJKjp-Regular-30" transform="translate(388.599884 0)" />
<use href="#NotoSansCJKjp-Regular-30" transform="translate(444.099869 0)" />
<use href="#NotoSansCJKjp-Regular-30" transform="translate(499.599854 0)" />
</g>
</g>
</g>
<g id="xtick_12">
<g id="line2d_51">
<path d="M 473.5 667.5 L 473.5 390.5" clip-path="url(#pfd1f3cce04)" style="fill: none; stroke: #b0b0b0; stroke-width: 0.8; stroke-linecap: square" />
</g>
<g id="line2d_52">
<g>
<use href="#m7c25c535dc" x="473.5" y="667.5" style="stroke: #000000; stroke-width: 0.8" />
</g>
</g>
<g id="xtl2_3" transform="translate(0 -0.6)">
<g transform="translate(445.745313 682.459375) scale(0.1 -0.1)" style="stroke:#000;stroke-width:192.00;stroke-linejoin:round">
<use href="#NotoSansCJKjp-Regular-35" />
<use href="#NotoSansCJKjp-Regular-34" transform="translate(55.499985 0)" />
<use href="#NotoSansCJKjp-Regular-30" transform="translate(110.999969 0)" />
<use href="#NotoSansCJKjp-Regular-2c" transform="translate(166.499954 0)" />
<use href="#NotoSansCJKjp-Regular-30" transform="translate(194.299942 0)" />
<use href="#NotoSansCJKjp-Regular-30" transform="translate(249.799927 0)" />
<use href="#NotoSansCJKjp-Regular-30" transform="translate(305.299911 0)" />
<use href="#NotoSansCJKjp-Regular-2c" transform="translate(360.799896 0)" />
<use href="#NotoSansCJKjp-Regular-30" transform="translate(388.599884 0)" />
<use href="#NotoSansCJKjp-Regular-30" transform="translate(444.099869 0)" />
<use href="#NotoSansCJKjp-Regular-30" transform="translate(499.599854 0)" />
</g>
</g>
</g>
<g id="xlabel2" transform="translate(-0.5 0.3)">
<g transform="translate(250.5 701.485) scale(0.16 -0.16)" style="stroke:#000;stroke-width:180.00;stroke-linejoin:round">
<use href="#NotoSansCJKjp-Regular-8ca9" />
<use href="#NotoSansCJKjp-Regular-58f2" transform="translate(99.999985 0)" />
<use href="#NotoSansCJKjp-Regular-984d" transform="translate(199.999969 0)" />
<use href="#NotoSansCJKjp-Regular-ff08" transform="translate(299.999954 0)" />
<use href="#NotoSansCJKjp-Regular-5186" transform="translate(399.999939 0)" />
<use href="#NotoSansCJKjp-Regular-ff09" transform="translate(499.999924 0)" />
</g>
</g>
</g>
<g id="matplotlib.axis_6">
<g id="ytick_15">
<g id="line2d_53">
<path d="M 66.5 661.5 L 530.5 661.5" clip-path="url(#pfd1f3cce04)" style="fill: none; stroke: #b0b0b0; stroke-width: 0.8; stroke-linecap: square" />
</g>
<g id="line2d_54">
<g>
<use href="#mb258c49b38" x="66.5" y="661.5" style="stroke: #000000; stroke-width: 0.8" />
</g>
</g>
<g id="ytl2_1" transform="translate(-1 -0.7)">
<g transform="translate(37.3 665.815688) scale(0.1 -0.1)" style="stroke:#000;stroke-width:192.00;stroke-linejoin:round">
<use href="#NotoSansCJKjp-Regular-31" />
<use href="#NotoSansCJKjp-Regular-32" transform="translate(55.499985 0)" />
<use href="#NotoSansCJKjp-Regular-30" transform="translate(110.999969 0)" />
<use href="#NotoSansCJKjp-Regular-30" transform="translate(166.499954 0)" />
</g>
</g>
</g>
<g id="ytick_16">
<g id="line2d_55">
<path d="M 66.5 629.5 L 530.5 629.5" clip-path="url(#pfd1f3cce04)" style="fill: none; stroke: #b0b0b0; stroke-width: 0.8; stroke-linecap: square" />
</g>
<g id="line2d_56">
<g>
<use href="#mb258c49b38" x="66.5" y="629.5" style="stroke: #000000; stroke-width: 0.8" />
</g>
</g>
<g id="ytl2_2" transform="translate(-1 -0.7)">
<g transform="translate(37.3 633.258688) scale(0.1 -0.1)" style="stroke:#000;stroke-width:192.00;stroke-linejoin:round">
<use href="#NotoSansCJKjp-Regular-31" />
<use href="#NotoSansCJKjp-Regular-34" transform="translate(55.499985 0)" />
<use href="#NotoSansCJKjp-Regular-30" transform="translate(110.999969 0)" />
<use href="#NotoSansCJKjp-Regular-30" transform="translate(166.499954 0)" />
</g>
</g>
</g>
<g id="ytick_17">
<g id="line2d_57">
<path d="M 66.5 596.5 L 530.5 596.5" clip-path="url(#pfd1f3cce04)" style="fill: none; stroke: #b0b0b0; stroke-width: 0.8; stroke-linecap: square" />
</g>
<g id="line2d_58">
<g>
<use href="#mb258c49b38" x="66.5" y="596.5" style="stroke: #000000; stroke-width: 0.8" />
</g>
</g>
<g id="ytl2_3" transform="translate(-1 -0.7)">
<g transform="translate(37.3 600.701688) scale(0.1 -0.1)" style="stroke:#000;stroke-width:192.00;stroke-linejoin:round">
<use href="#NotoSansCJKjp-Regular-31" />
<use href="#NotoSansCJKjp-Regular-36" transform="translate(55.499985 0)" />
<use href="#NotoSansCJKjp-Regular-30" transform="translate(110.999969 0)" />
<use href="#NotoSansCJKjp-Regular-30" transform="translate(166.499954 0)" />
</g>
</g>
</g>
<g id="ytick_18">
<g id="line2d_59">
<path d="M 66.5 564.5 L 530.5 564.5" clip-path="url(#pfd1f3cce04)" style="fill: none; stroke: #b0b0b0; stroke-width: 0.8; stroke-linecap: square" />
</g>
<g id="line2d_60">
<g>
<use href="#mb258c49b38" x="66.5" y="564.5" style="stroke: #000000; stroke-width: 0.8" />
</g>
</g>
<g id="ytl2_4" transform="translate(-1 -0.7)">
<g transform="translate(37.3 568.144688) scale(0.1 -0.1)" style="stroke:#000;stroke-width:192.00;stroke-linejoin:round">
<use href="#NotoSansCJKjp-Regular-31" />
<use href="#NotoSansCJKjp-Regular-38" transform="translate(55.499985 0)" />
<use href="#NotoSansCJKjp-Regular-30" transform="translate(110.999969 0)" />
<use href="#NotoSansCJKjp-Regular-30" transform="translate(166.499954 0)" />
</g>
</g>
</g>
<g id="ytick_19">
<g id="line2d_61">
<path d="M 66.5 531.5 L 530.5 531.5" clip-path="url(#pfd1f3cce04)" style="fill: none; stroke: #b0b0b0; stroke-width: 0.8; stroke-linecap: square" />
</g>
<g id="line2d_62">
<g>
<use href="#mb258c49b38" x="66.5" y="531.5" style="stroke: #000000; stroke-width: 0.8" />
</g>
</g>
<g id="ytl2_5" transform="translate(-1 -0.7)">
<g transform="translate(37.3 535.587688) scale(0.1 -0.1)" style="stroke:#000;stroke-width:192.00;stroke-linejoin:round">
<use href="#NotoSansCJKjp-Regular-32" />
<use href="#NotoSansCJKjp-Regular-30" transform="translate(55.499985 0)" />
<use href="#NotoSansCJKjp-Regular-30" transform="translate(110.999969 0)" />
<use href="#NotoSansCJKjp-Regular-30" transform="translate(166.499954 0)" />
</g>
</g>
</g>
<g id="ytick_20">
<g id="line2d_63">
<path d="M 66.5 499.5 L 530.5 499.5" clip-path="url(#pfd1f3cce04)" style="fill: none; stroke: #b0b0b0; stroke-width: 0.8; stroke-linecap: square" />
</g>
<g id="line2d_64">
<g>
<use href="#mb258c49b38" x="66.5" y="499.5" style="stroke: #000000; stroke-width: 0.8" />
</g>
</g>
<g id="ytl2_6" transform="translate(-1 -0.7)">
<g transform="translate(37.3 503.030688) scale(0.1 -0.1)" style="stroke:#000;stroke-width:192.00;stroke-linejoin:round">
<use href="#NotoSansCJKjp-Regular-32" />
<use href="#NotoSansCJKjp-Regular-32" transform="translate(55.499985 0)" />
<use href="#NotoSansCJKjp-Regular-30" transform="translate(110.999969 0)" />
<use href="#NotoSansCJKjp-Regular-30" transform="translate(166.499954 0)" />
</g>
</g>
</g>
<g id="ytick_21">
<g id="line2d_65">
<path d="M 66.5 466.5 L 530.5 466.5" clip-path="url(#pfd1f3cce04)" style="fill: none; stroke: #b0b0b0; stroke-width: 0.8; stroke-linecap: square" />
</g>
<g id="line2d_66">
<g>
<use href="#mb258c49b38" x="66.5" y="466.5" style="stroke: #000000; stroke-width: 0.8" />
</g>
</g>
<g id="ytl2_7" transform="translate(-1 -0.7)">
<g transform="translate(37.3 470.473688) scale(0.1 -0.1)" style="stroke:#000;stroke-width:192.00;stroke-linejoin:round">
<use href="#NotoSansCJKjp-Regular-32" />
<use href="#NotoSansCJKjp-Regular-34" transform="translate(55.499985 0)" />
<use href="#NotoSansCJKjp-Regular-30" transform="translate(110.999969 0)" />
<use href="#NotoSansCJKjp-Regular-30" transform="translate(166.499954 0)" />
</g>
</g>
</g>
<g id="ytick_22">
<g id="line2d_67">
<path d="M 66.5 433.5 L 530.5 433.5" clip-path="url(#pfd1f3cce04)" style="fill: none; stroke: #b0b0b0; stroke-width: 0.8; stroke-linecap: square" />
</g>
<g id="line2d_68">
<g>
<use href="#mb258c49b38" x="66.5" y="433.5" style="stroke: #000000; stroke-width: 0.8" />
</g>
</g>
<g id="ytl2_8" transform="translate(-1 -0.7)">
<g transform="translate(37.3 437.916688) scale(0.1 -0.1)" style="stroke:#000;stroke-width:192.00;stroke-linejoin:round">
<use href="#NotoSansCJKjp-Regular-32" />
<use href="#NotoSansCJKjp-Regular-36" transform="translate(55.499985 0)" />
<use href="#NotoSansCJKjp-Regular-30" transform="translate(110.999969 0)" />
<use href="#NotoSansCJKjp-Regular-30" transform="translate(166.499954 0)" />
</g>
</g>
</g>
<g id="ytick_23">
<g id="line2d_69">
<path d="M 66.5 401.5 L 530.5 401.5" clip-path="url(#pfd1f3cce04)" style="fill: none; stroke: #b0b0b0; stroke-width: 0.8; stroke-linecap: square" />
</g>
<g id="line2d_70">
<g>
<use href="#mb258c49b38" x="66.5" y="401.5" style="stroke: #000000; stroke-width: 0.8" />
</g>
</g>
<g id="ytl2_9" transform="translate(-1 -0.7)">
<g transform="translate(37.3 405.359688) scale(0.1 -0.1)" style="stroke:#000;stroke-width:192.00;stroke-linejoin:round">
<use href="#NotoSansCJKjp-Regular-32" />
<use href="#NotoSansCJKjp-Regular-38" transform="translate(55.499985 0)" />
<use href="#NotoSansCJKjp-Regular-30" transform="translate(110.999969 0)" />
<use href="#NotoSansCJKjp-Regular-30" transform="translate(166.499954 0)" />
</g>
</g>
</g>
<g id="ylabel2" transform="translate(-1 2)">
<g transform="translate(29.635 561) rotate(-90) scale(0.16 -0.16)" style="stroke:#000;stroke-width:180.00;stroke-linejoin:round">
<use href="#NotoSansCJKjp-Regular-5f53" />
<use href="#NotoSansCJKjp-Regular-9078" transform="translate(99.999985 0)" />
<use href="#NotoSansCJKjp-Regular-672c" transform="translate(199.999969 0)" />
<use href="#NotoSansCJKjp-Regular-6570" transform="translate(299.999954 0)" />
</g>
</g>
</g>
<g id="reg2" transform="translate(-0.6 -0.6)">
<path d="M 87.35 606.201043  L 95.05 604.267797  L 144.35 591.890002  L 197.85 578.45771  L 110.55 600.376198  L 88.35 605.949972  L 225.15 571.603474  L 225.15 571.603474  L 241.85 567.41059  L 269.45 560.481034  L 296.35 553.727227  L 234.35 569.293622  L 234.35 569.293622  L 272.35 559.752928  L 306.85 551.090982  L 369.45 535.373944  L 365.25 536.428442  L 308.35 550.714376  L 309.45 550.438198  L 315.45 548.931773  L 255.45 563.996026  L 309.45 550.438198  L 279.45 557.970325  L 377.25 533.415591  L 504.55 501.454267  L 509.35 500.249126  L 454.45 514.032918  L 489.75 505.170116  L 437.55 518.276017  L 441.35 517.321947  " clip-path="url(#pfd1f3cce04)" style="fill: none; stroke: #dc2626; stroke-width: 2.1; stroke-linecap: square" />
</g>
<g id="spine2">
<path d="M 66.5 667.5  L 66.5 390.5  " style="fill: none; stroke: #000000; stroke-width: 0.8; stroke-linejoin: miter; stroke-linecap: square" />
</g>
<g id="spine2">
<path d="M 530.5 667.5  L 530.5 390.5  " style="fill: none; stroke: #000000; stroke-width: 0.8; stroke-linejoin: miter; stroke-linecap: square" />
</g>
<g id="spine2">
<path d="M 66.5 667.5  L 530.5 667.5  " style="fill: none; stroke: #000000; stroke-width: 0.8; stroke-linejoin: miter; stroke-linecap: square" />
</g>
<g id="spine2">
<path d="M 66.5 390.5  L 530.5 390.5  " style="fill: none; stroke: #000000; stroke-width: 0.8; stroke-linejoin: miter; stroke-linecap: square" />
</g>
<g id="title2" transform="translate(-0.6 0.8)">
<g transform="translate(172.95 384.5) scale(0.2 -0.2)" style="stroke:#000;stroke-width:160.00;stroke-linejoin:round">
<use href="#NotoSansCJKjp-Regular-8ca9" />
<use href="#NotoSansCJKjp-Regular-58f2" transform="translate(99.999985 0)" />
<use href="#NotoSansCJKjp-Regular-984d" transform="translate(199.999969 0)" />
<use href="#NotoSansCJKjp-Regular-3068" transform="translate(299.999954 0)" />
<use href="#NotoSansCJKjp-Regular-33" transform="translate(399.999939 0)" />
<use href="#NotoSansCJKjp-Regular-7b49" transform="translate(455.499924 0)" />
<use href="#NotoSansCJKjp-Regular-5f53" transform="translate(555.499908 0)" />
<use href="#NotoSansCJKjp-Regular-9078" transform="translate(655.499893 0)" />
<use href="#NotoSansCJKjp-Regular-672c" transform="translate(755.499878 0)" />
<use href="#NotoSansCJKjp-Regular-6570" transform="translate(855.499863 0)" />
<use href="#NotoSansCJKjp-Regular-306e" transform="translate(955.499847 0)" />
<use href="#NotoSansCJKjp-Regular-95a2" transform="translate(1055.499832 0)" />
<use href="#NotoSansCJKjp-Regular-4fc2" transform="translate(1155.499817 0)" />
</g>
</g>
</g>
<g id="axes_4">
<g id="patch_5">
<path d="M 601.5 667.5  L 1065.5 667.5  L 1065.5 390.5  L 601.5 390.5  z " style="fill: #ffffff" />
</g>
<g id="dots3">
<g clip-path="url(#p4e59229c7f)">
<use href="#m3312d42796" x="630.05" y="517.776078" style="fill: #0000ff; fill-opacity: 0.63; stroke: #0000ff; stroke-opacity: 0.63" />
<use href="#m3312d42796" x="622.35" y="538.43862" style="fill: #0000ff; fill-opacity: 0.63; stroke: #0000ff; stroke-opacity: 0.63" />
<use href="#m3312d42796" x="679.35" y="547.525858" style="fill: #0000ff; fill-opacity: 0.63; stroke: #0000ff; stroke-opacity: 0.63" />
<use href="#m3312d42796" x="645.55" y="567.858442" style="fill: #0000ff; fill-opacity: 0.63; stroke: #0000ff; stroke-opacity: 0.63" />
<use href="#m3312d42796" x="732.85" y="570.052221" style="fill: #0000ff; fill-opacity: 0.63; stroke: #0000ff; stroke-opacity: 0.63" />
<use href="#m3312d42796" x="623.35" y="601.995781" style="fill: #0000ff; fill-opacity: 0.63; stroke: #0000ff; stroke-opacity: 0.63" />
<use href="#m3312d42796" x="760.15" y="596.003019" style="fill: #0000ff; fill-opacity: 0.63; stroke: #0000ff; stroke-opacity: 0.63" />
<use href="#m3312d42796" x="760.15" y="655.235047" style="fill: #0000ff; fill-opacity: 0.63; stroke: #0000ff; stroke-opacity: 0.63" />
<use href="#m3312d42796" x="804.45" y="442.269065" style="fill: #0000ff; fill-opacity: 0.63; stroke: #0000ff; stroke-opacity: 0.63" />
<use href="#m3312d42796" x="776.85" y="453.35389" style="fill: #0000ff; fill-opacity: 0.63; stroke: #0000ff; stroke-opacity: 0.63" />
<use href="#m3312d42796" x="831.35" y="482.871808" style="fill: #0000ff; fill-opacity: 0.63; stroke: #0000ff; stroke-opacity: 0.63" />
<use href="#m3312d42796" x="769.35" y="512.880205" style="fill: #0000ff; fill-opacity: 0.63; stroke: #0000ff; stroke-opacity: 0.63" />
<use href="#m3312d42796" x="807.35" y="510.686427" style="fill: #0000ff; fill-opacity: 0.63; stroke: #0000ff; stroke-opacity: 0.63" />
<use href="#m3312d42796" x="841.85" y="519.773665" style="fill: #0000ff; fill-opacity: 0.63; stroke: #0000ff; stroke-opacity: 0.63" />
<use href="#m3312d42796" x="904.45" y="519.773665" style="fill: #0000ff; fill-opacity: 0.63; stroke: #0000ff; stroke-opacity: 0.63" />
<use href="#m3312d42796" x="790.45" y="543.432588" style="fill: #0000ff; fill-opacity: 0.63; stroke: #0000ff; stroke-opacity: 0.63" />
<use href="#m3312d42796" x="769.35" y="558.699862" style="fill: #0000ff; fill-opacity: 0.63; stroke: #0000ff; stroke-opacity: 0.63" />
<use href="#m3312d42796" x="844.45" y="564.255651" style="fill: #0000ff; fill-opacity: 0.63; stroke: #0000ff; stroke-opacity: 0.63" />
<use href="#m3312d42796" x="844.45" y="573.146698" style="fill: #0000ff; fill-opacity: 0.63; stroke: #0000ff; stroke-opacity: 0.63" />
<use href="#m3312d42796" x="900.25" y="550.513321" style="fill: #0000ff; fill-opacity: 0.63; stroke: #0000ff; stroke-opacity: 0.63" />
<use href="#m3312d42796" x="912.25" y="561.161175" style="fill: #0000ff; fill-opacity: 0.63; stroke: #0000ff; stroke-opacity: 0.63" />
<use href="#m3312d42796" x="844.45" y="594.005432" style="fill: #0000ff; fill-opacity: 0.63; stroke: #0000ff; stroke-opacity: 0.63" />
<use href="#m3312d42796" x="850.45" y="596.003019" style="fill: #0000ff; fill-opacity: 0.63; stroke: #0000ff; stroke-opacity: 0.63" />
<use href="#m3312d42796" x="814.45" y="612.839826" style="fill: #0000ff; fill-opacity: 0.63; stroke: #0000ff; stroke-opacity: 0.63" />
<use href="#m3312d42796" x="1044.35" y="403.672827" style="fill: #0000ff; fill-opacity: 0.63; stroke: #0000ff; stroke-opacity: 0.63" />
<use href="#m3312d42796" x="989.45" y="479.973523" style="fill: #0000ff; fill-opacity: 0.63; stroke: #0000ff; stroke-opacity: 0.63" />
<use href="#m3312d42796" x="1024.75" y="479.973523" style="fill: #0000ff; fill-opacity: 0.63; stroke: #0000ff; stroke-opacity: 0.63" />
<use href="#m3312d42796" x="1039.55" y="482.871808" style="fill: #0000ff; fill-opacity: 0.63; stroke: #0000ff; stroke-opacity: 0.63" />
<use href="#m3312d42796" x="972.55" y="523.759921" style="fill: #0000ff; fill-opacity: 0.63; stroke: #0000ff; stroke-opacity: 0.63" />
<use href="#m3312d42796" x="976.35" y="556.506083" style="fill: #0000ff; fill-opacity: 0.63; stroke: #0000ff; stroke-opacity: 0.63" />
</g>
</g>
<g id="matplotlib.axis_7">
<g id="xtick_13">
<g id="line2d_71">
<path d="M 699.5 667.5 L 699.5 390.5" clip-path="url(#p4e59229c7f)" style="fill: none; stroke: #b0b0b0; stroke-width: 0.8; stroke-linecap: square" />
</g>
<g id="line2d_72">
<g>
<use href="#m7c25c535dc" x="699.5" y="667.5" style="stroke: #000000; stroke-width: 0.8" />
</g>
</g>
<g id="xtl3_0" transform="translate(0 -0.6)">
<g transform="translate(671.745313 682.459375) scale(0.1 -0.1)" style="stroke:#000;stroke-width:192.00;stroke-linejoin:round">
<use href="#NotoSansCJKjp-Regular-35" />
<use href="#NotoSansCJKjp-Regular-31" transform="translate(55.499985 0)" />
<use href="#NotoSansCJKjp-Regular-30" transform="translate(110.999969 0)" />
<use href="#NotoSansCJKjp-Regular-2c" transform="translate(166.499954 0)" />
<use href="#NotoSansCJKjp-Regular-30" transform="translate(194.299942 0)" />
<use href="#NotoSansCJKjp-Regular-30" transform="translate(249.799927 0)" />
<use href="#NotoSansCJKjp-Regular-30" transform="translate(305.299911 0)" />
<use href="#NotoSansCJKjp-Regular-2c" transform="translate(360.799896 0)" />
<use href="#NotoSansCJKjp-Regular-30" transform="translate(388.599884 0)" />
<use href="#NotoSansCJKjp-Regular-30" transform="translate(444.099869 0)" />
<use href="#NotoSansCJKjp-Regular-30" transform="translate(499.599854 0)" />
</g>
</g>
</g>
<g id="xtick_14">
<g id="line2d_73">
<path d="M 802.5 667.5 L 802.5 390.5" clip-path="url(#p4e59229c7f)" style="fill: none; stroke: #b0b0b0; stroke-width: 0.8; stroke-linecap: square" />
</g>
<g id="line2d_74">
<g>
<use href="#m7c25c535dc" x="802.5" y="667.5" style="stroke: #000000; stroke-width: 0.8" />
</g>
</g>
<g id="xtl3_1" transform="translate(0 -0.6)">
<g transform="translate(774.745313 682.459375) scale(0.1 -0.1)" style="stroke:#000;stroke-width:192.00;stroke-linejoin:round">
<use href="#NotoSansCJKjp-Regular-35" />
<use href="#NotoSansCJKjp-Regular-32" transform="translate(55.499985 0)" />
<use href="#NotoSansCJKjp-Regular-30" transform="translate(110.999969 0)" />
<use href="#NotoSansCJKjp-Regular-2c" transform="translate(166.499954 0)" />
<use href="#NotoSansCJKjp-Regular-30" transform="translate(194.299942 0)" />
<use href="#NotoSansCJKjp-Regular-30" transform="translate(249.799927 0)" />
<use href="#NotoSansCJKjp-Regular-30" transform="translate(305.299911 0)" />
<use href="#NotoSansCJKjp-Regular-2c" transform="translate(360.799896 0)" />
<use href="#NotoSansCJKjp-Regular-30" transform="translate(388.599884 0)" />
<use href="#NotoSansCJKjp-Regular-30" transform="translate(444.099869 0)" />
<use href="#NotoSansCJKjp-Regular-30" transform="translate(499.599854 0)" />
</g>
</g>
</g>
<g id="xtick_15">
<g id="line2d_75">
<path d="M 905.5 667.5 L 905.5 390.5" clip-path="url(#p4e59229c7f)" style="fill: none; stroke: #b0b0b0; stroke-width: 0.8; stroke-linecap: square" />
</g>
<g id="line2d_76">
<g>
<use href="#m7c25c535dc" x="905.5" y="667.5" style="stroke: #000000; stroke-width: 0.8" />
</g>
</g>
<g id="xtl3_2" transform="translate(0 -0.6)">
<g transform="translate(877.745313 682.459375) scale(0.1 -0.1)" style="stroke:#000;stroke-width:192.00;stroke-linejoin:round">
<use href="#NotoSansCJKjp-Regular-35" />
<use href="#NotoSansCJKjp-Regular-33" transform="translate(55.499985 0)" />
<use href="#NotoSansCJKjp-Regular-30" transform="translate(110.999969 0)" />
<use href="#NotoSansCJKjp-Regular-2c" transform="translate(166.499954 0)" />
<use href="#NotoSansCJKjp-Regular-30" transform="translate(194.299942 0)" />
<use href="#NotoSansCJKjp-Regular-30" transform="translate(249.799927 0)" />
<use href="#NotoSansCJKjp-Regular-30" transform="translate(305.299911 0)" />
<use href="#NotoSansCJKjp-Regular-2c" transform="translate(360.799896 0)" />
<use href="#NotoSansCJKjp-Regular-30" transform="translate(388.599884 0)" />
<use href="#NotoSansCJKjp-Regular-30" transform="translate(444.099869 0)" />
<use href="#NotoSansCJKjp-Regular-30" transform="translate(499.599854 0)" />
</g>
</g>
</g>
<g id="xtick_16">
<g id="line2d_77">
<path d="M 1008.5 667.5 L 1008.5 390.5" clip-path="url(#p4e59229c7f)" style="fill: none; stroke: #b0b0b0; stroke-width: 0.8; stroke-linecap: square" />
</g>
<g id="line2d_78">
<g>
<use href="#m7c25c535dc" x="1008.5" y="667.5" style="stroke: #000000; stroke-width: 0.8" />
</g>
</g>
<g id="xtl3_3" transform="translate(0 -0.6)">
<g transform="translate(980.745313 682.459375) scale(0.1 -0.1)" style="stroke:#000;stroke-width:192.00;stroke-linejoin:round">
<use href="#NotoSansCJKjp-Regular-35" />
<use href="#NotoSansCJKjp-Regular-34" transform="translate(55.499985 0)" />
<use href="#NotoSansCJKjp-Regular-30" transform="translate(110.999969 0)" />
<use href="#NotoSansCJKjp-Regular-2c" transform="translate(166.499954 0)" />
<use href="#NotoSansCJKjp-Regular-30" transform="translate(194.299942 0)" />
<use href="#NotoSansCJKjp-Regular-30" transform="translate(249.799927 0)" />
<use href="#NotoSansCJKjp-Regular-30" transform="translate(305.299911 0)" />
<use href="#NotoSansCJKjp-Regular-2c" transform="translate(360.799896 0)" />
<use href="#NotoSansCJKjp-Regular-30" transform="translate(388.599884 0)" />
<use href="#NotoSansCJKjp-Regular-30" transform="translate(444.099869 0)" />
<use href="#NotoSansCJKjp-Regular-30" transform="translate(499.599854 0)" />
</g>
</g>
</g>
<g id="xlabel3" transform="translate(-0.5 0.3)">
<g transform="translate(785.5 701.485) scale(0.16 -0.16)" style="stroke:#000;stroke-width:180.00;stroke-linejoin:round">
<use href="#NotoSansCJKjp-Regular-8ca9" />
<use href="#NotoSansCJKjp-Regular-58f2" transform="translate(99.999985 0)" />
<use href="#NotoSansCJKjp-Regular-984d" transform="translate(199.999969 0)" />
<use href="#NotoSansCJKjp-Regular-ff08" transform="translate(299.999954 0)" />
<use href="#NotoSansCJKjp-Regular-5186" transform="translate(399.999939 0)" />
<use href="#NotoSansCJKjp-Regular-ff09" transform="translate(499.999924 0)" />
</g>
</g>
</g>
<g id="matplotlib.axis_8">
<g id="ytick_24">
<g id="line2d_79">
<path d="M 601.5 661.5 L 1065.5 661.5" clip-path="url(#p4e59229c7f)" style="fill: none; stroke: #b0b0b0; stroke-width: 0.8; stroke-linecap: square" />
</g>
<g id="line2d_80">
<g>
<use href="#mb258c49b38" x="601.5" y="661.5" style="stroke: #000000; stroke-width: 0.8" />
</g>
</g>
<g id="ytl3_1" transform="translate(-1 -0.7)">
<g transform="translate(566.75 665.403688) scale(0.1 -0.1)" style="stroke:#000;stroke-width:192.00;stroke-linejoin:round">
<use href="#NotoSansCJKjp-Regular-33" />
<use href="#NotoSansCJKjp-Regular-35" transform="translate(55.499985 0)" />
<use href="#NotoSansCJKjp-Regular-30" transform="translate(110.999969 0)" />
<use href="#NotoSansCJKjp-Regular-30" transform="translate(166.499954 0)" />
<use href="#NotoSansCJKjp-Regular-30" transform="translate(221.999939 0)" />
</g>
</g>
</g>
<g id="ytick_25">
<g id="line2d_81">
<path d="M 601.5 616.5 L 1065.5 616.5" clip-path="url(#p4e59229c7f)" style="fill: none; stroke: #b0b0b0; stroke-width: 0.8; stroke-linecap: square" />
</g>
<g id="line2d_82">
<g>
<use href="#mb258c49b38" x="601.5" y="616.5" style="stroke: #000000; stroke-width: 0.8" />
</g>
</g>
<g id="ytl3_2" transform="translate(-1 -0.7)">
<g transform="translate(566.75 620.814687) scale(0.1 -0.1)" style="stroke:#000;stroke-width:192.00;stroke-linejoin:round">
<use href="#NotoSansCJKjp-Regular-34" />
<use href="#NotoSansCJKjp-Regular-30" transform="translate(55.499985 0)" />
<use href="#NotoSansCJKjp-Regular-30" transform="translate(110.999969 0)" />
<use href="#NotoSansCJKjp-Regular-30" transform="translate(166.499954 0)" />
<use href="#NotoSansCJKjp-Regular-30" transform="translate(221.999939 0)" />
</g>
</g>
</g>
<g id="ytick_26">
<g id="line2d_83">
<path d="M 601.5 572.5 L 1065.5 572.5" clip-path="url(#p4e59229c7f)" style="fill: none; stroke: #b0b0b0; stroke-width: 0.8; stroke-linecap: square" />
</g>
<g id="line2d_84">
<g>
<use href="#mb258c49b38" x="601.5" y="572.5" style="stroke: #000000; stroke-width: 0.8" />
</g>
</g>
<g id="ytl3_3" transform="translate(-1 -0.7)">
<g transform="translate(566.75 576.225688) scale(0.1 -0.1)" style="stroke:#000;stroke-width:192.00;stroke-linejoin:round">
<use href="#NotoSansCJKjp-Regular-34" />
<use href="#NotoSansCJKjp-Regular-35" transform="translate(55.499985 0)" />
<use href="#NotoSansCJKjp-Regular-30" transform="translate(110.999969 0)" />
<use href="#NotoSansCJKjp-Regular-30" transform="translate(166.499954 0)" />
<use href="#NotoSansCJKjp-Regular-30" transform="translate(221.999939 0)" />
</g>
</g>
</g>
<g id="ytick_27">
<g id="line2d_85">
<path d="M 601.5 527.5 L 1065.5 527.5" clip-path="url(#p4e59229c7f)" style="fill: none; stroke: #b0b0b0; stroke-width: 0.8; stroke-linecap: square" />
</g>
<g id="line2d_86">
<g>
<use href="#mb258c49b38" x="601.5" y="527.5" style="stroke: #000000; stroke-width: 0.8" />
</g>
</g>
<g id="ytl3_4" transform="translate(-1 -0.7)">
<g transform="translate(566.75 531.636687) scale(0.1 -0.1)" style="stroke:#000;stroke-width:192.00;stroke-linejoin:round">
<use href="#NotoSansCJKjp-Regular-35" />
<use href="#NotoSansCJKjp-Regular-30" transform="translate(55.499985 0)" />
<use href="#NotoSansCJKjp-Regular-30" transform="translate(110.999969 0)" />
<use href="#NotoSansCJKjp-Regular-30" transform="translate(166.499954 0)" />
<use href="#NotoSansCJKjp-Regular-30" transform="translate(221.999939 0)" />
</g>
</g>
</g>
<g id="ytick_28">
<g id="line2d_87">
<path d="M 601.5 483.5 L 1065.5 483.5" clip-path="url(#p4e59229c7f)" style="fill: none; stroke: #b0b0b0; stroke-width: 0.8; stroke-linecap: square" />
</g>
<g id="line2d_88">
<g>
<use href="#mb258c49b38" x="601.5" y="483.5" style="stroke: #000000; stroke-width: 0.8" />
</g>
</g>
<g id="ytl3_5" transform="translate(-1 -0.7)">
<g transform="translate(566.75 487.047688) scale(0.1 -0.1)" style="stroke:#000;stroke-width:192.00;stroke-linejoin:round">
<use href="#NotoSansCJKjp-Regular-35" />
<use href="#NotoSansCJKjp-Regular-35" transform="translate(55.499985 0)" />
<use href="#NotoSansCJKjp-Regular-30" transform="translate(110.999969 0)" />
<use href="#NotoSansCJKjp-Regular-30" transform="translate(166.499954 0)" />
<use href="#NotoSansCJKjp-Regular-30" transform="translate(221.999939 0)" />
</g>
</g>
</g>
<g id="ytick_29">
<g id="line2d_89">
<path d="M 601.5 438.5 L 1065.5 438.5" clip-path="url(#p4e59229c7f)" style="fill: none; stroke: #b0b0b0; stroke-width: 0.8; stroke-linecap: square" />
</g>
<g id="line2d_90">
<g>
<use href="#mb258c49b38" x="601.5" y="438.5" style="stroke: #000000; stroke-width: 0.8" />
</g>
</g>
<g id="ytl3_6" transform="translate(-1 -0.7)">
<g transform="translate(566.75 442.458688) scale(0.1 -0.1)" style="stroke:#000;stroke-width:192.00;stroke-linejoin:round">
<use href="#NotoSansCJKjp-Regular-36" />
<use href="#NotoSansCJKjp-Regular-30" transform="translate(55.499985 0)" />
<use href="#NotoSansCJKjp-Regular-30" transform="translate(110.999969 0)" />
<use href="#NotoSansCJKjp-Regular-30" transform="translate(166.499954 0)" />
<use href="#NotoSansCJKjp-Regular-30" transform="translate(221.999939 0)" />
</g>
</g>
</g>
<g id="ytick_30">
<g id="line2d_91">
<path d="M 601.5 393.5 L 1065.5 393.5" clip-path="url(#p4e59229c7f)" style="fill: none; stroke: #b0b0b0; stroke-width: 0.8; stroke-linecap: square" />
</g>
<g id="line2d_92">
<g>
<use href="#mb258c49b38" x="601.5" y="393.5" style="stroke: #000000; stroke-width: 0.8" />
</g>
</g>
<g id="ytl3_7" transform="translate(-1 -0.7)">
<g transform="translate(566.75 397.869687) scale(0.1 -0.1)" style="stroke:#000;stroke-width:192.00;stroke-linejoin:round">
<use href="#NotoSansCJKjp-Regular-36" />
<use href="#NotoSansCJKjp-Regular-35" transform="translate(55.499985 0)" />
<use href="#NotoSansCJKjp-Regular-30" transform="translate(110.999969 0)" />
<use href="#NotoSansCJKjp-Regular-30" transform="translate(166.499954 0)" />
<use href="#NotoSansCJKjp-Regular-30" transform="translate(221.999939 0)" />
</g>
</g>
</g>
<g id="ylabel3" transform="translate(-1 2)">
<g transform="translate(559.085 561) rotate(-90) scale(0.16 -0.16)" style="stroke:#000;stroke-width:180.00;stroke-linejoin:round">
<use href="#NotoSansCJKjp-Regular-5f53" />
<use href="#NotoSansCJKjp-Regular-9078" transform="translate(99.999985 0)" />
<use href="#NotoSansCJKjp-Regular-672c" transform="translate(199.999969 0)" />
<use href="#NotoSansCJKjp-Regular-6570" transform="translate(299.999954 0)" />
</g>
</g>
</g>
<g id="reg3" transform="translate(-0.6 -0.6)">
<path d="M 630.05 574.679249  L 622.35 576.143583  L 679.35 565.303705  L 645.55 571.731563  L 732.85 555.129434  L 623.35 575.95341  L 760.15 549.937703  L 760.15 549.937703  L 804.45 541.513026  L 776.85 546.761809  L 831.35 536.397364  L 769.35 548.188108  L 807.35 540.961523  L 841.85 534.400544  L 904.45 522.495696  L 790.45 544.175452  L 769.35 548.188108  L 844.45 533.906094  L 844.45 533.906094  L 900.25 523.294423  L 912.25 521.012344  L 844.45 533.906094  L 850.45 532.765054  L 814.45 539.611293  L 1044.35 495.890451  L 989.45 506.330965  L 1024.75 499.617848  L 1039.55 496.803283  L 972.55 509.544894  L 976.35 508.822235  " clip-path="url(#p4e59229c7f)" style="fill: none; stroke: #dc2626; stroke-width: 2.1; stroke-linecap: square" />
</g>
<g id="spine3">
<path d="M 601.5 667.5  L 601.5 390.5  " style="fill: none; stroke: #000000; stroke-width: 0.8; stroke-linejoin: miter; stroke-linecap: square" />
</g>
<g id="spine3">
<path d="M 1065.5 667.5  L 1065.5 390.5  " style="fill: none; stroke: #000000; stroke-width: 0.8; stroke-linejoin: miter; stroke-linecap: square" />
</g>
<g id="spine3">
<path d="M 601.5 667.5  L 1065.5 667.5  " style="fill: none; stroke: #000000; stroke-width: 0.8; stroke-linejoin: miter; stroke-linecap: square" />
</g>
<g id="spine3">
<path d="M 601.5 390.5  L 1065.5 390.5  " style="fill: none; stroke: #000000; stroke-width: 0.8; stroke-linejoin: miter; stroke-linecap: square" />
</g>
<g id="title3" transform="translate(0.3 0.8)">
<g transform="translate(707.95 384.5) scale(0.2 -0.2)" style="stroke:#000;stroke-width:160.00;stroke-linejoin:round">
<use href="#NotoSansCJKjp-Regular-8ca9" />
<use href="#NotoSansCJKjp-Regular-58f2" transform="translate(99.999985 0)" />
<use href="#NotoSansCJKjp-Regular-984d" transform="translate(199.999969 0)" />
<use href="#NotoSansCJKjp-Regular-3068" transform="translate(299.999954 0)" />
<use href="#NotoSansCJKjp-Regular-34" transform="translate(399.999939 0)" />
<use href="#NotoSansCJKjp-Regular-7b49" transform="translate(455.499924 0)" />
<use href="#NotoSansCJKjp-Regular-5f53" transform="translate(555.499908 0)" />
<use href="#NotoSansCJKjp-Regular-9078" transform="translate(655.499893 0)" />
<use href="#NotoSansCJKjp-Regular-672c" transform="translate(755.499878 0)" />
<use href="#NotoSansCJKjp-Regular-6570" transform="translate(855.499863 0)" />
<use href="#NotoSansCJKjp-Regular-306e" transform="translate(955.499847 0)" />
<use href="#NotoSansCJKjp-Regular-95a2" transform="translate(1055.499832 0)" />
<use href="#NotoSansCJKjp-Regular-4fc2" transform="translate(1155.499817 0)" />
</g>
</g>
</g>
</g>
<defs>
<clipPath id="p40eb9d77cc">
<rect x="66.5" y="38.5" width="464" height="277" />
</clipPath>
<clipPath id="p4d94d688c8">
<rect x="601.5" y="38.5" width="464" height="277" />
</clipPath>
<clipPath id="pfd1f3cce04">
<rect x="66.5" y="390.5" width="464" height="277" />
</clipPath>
<clipPath id="p4e59229c7f">
<rect x="601.5" y="390.5" width="464" height="277" />
</clipPath>
</defs>
</svg>
</body></html>
